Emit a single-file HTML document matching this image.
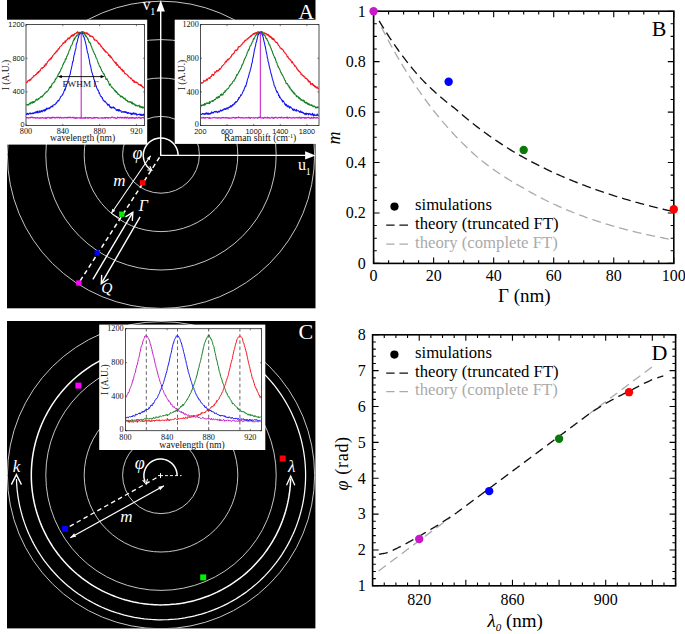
<!DOCTYPE html>
<html><head><meta charset="utf-8"><title>figure</title>
<style>
html,body{margin:0;padding:0;background:#fff;}
body{width:685px;height:634px;overflow:hidden;font-family:"Liberation Serif",serif;}
svg{display:block;}
</style></head><body>
<svg width="685" height="634" viewBox="0 0 685 634" font-family='"Liberation Serif", serif'>
<rect width="685" height="634" fill="#fff"/>
<clipPath id="ca"><rect x="7" y="0" width="308.5" height="308.3"/></clipPath>
<rect x="7" y="0" width="308.5" height="308.3" fill="#000"/>
<g clip-path="url(#ca)" fill="none" stroke="#c4c4c4" stroke-width="1">
<circle cx="161" cy="154.8" r="38.4"/>
<circle cx="161" cy="154.8" r="76.8"/>
<circle cx="161" cy="154.8" r="115.2"/>
<circle cx="161" cy="154.8" r="153.6"/>
</g>
<rect x="0" y="19.7" width="147.2" height="124.9" fill="#fff"/>
<rect x="174.7" y="19.7" width="150" height="124.2" fill="#fff"/>
<path d="M160.7 156.1 V9 M160 155.4 H307" stroke="#fff" stroke-width="1.4" fill="none"/>
<path d="M164.9 11.5 L160.7 0.3 L156.5 11.5 Z" fill="#fff"/>
<path d="M305.1 159.5 L315.6 155.4 L305.1 151.3 Z" fill="#fff"/>
<text x="142.6" y="9.9" font-size="16" fill="#fff" text-anchor="start" >v</text>
<text x="150.2" y="14.6" font-size="10" fill="#fff" text-anchor="start" >1</text>
<text x="298" y="170.2" font-size="16" fill="#fff" text-anchor="start" >u</text>
<text x="305.8" y="174.8" font-size="10" fill="#fff" text-anchor="start" >1</text>
<text x="306.3" y="18.6" font-size="22" fill="#fff" text-anchor="middle" >A</text>
<path d="M178.1 155.4 L178.06 154.21 L177.94 153.02 L177.73 151.84 L177.45 150.68 L177.08 149.54 L176.64 148.43 L176.13 147.36 L175.54 146.32 L174.88 145.32 L174.16 144.37 L173.37 143.47 L172.52 142.63 L171.62 141.85 L170.66 141.14 L169.66 140.49 L168.62 139.91 L167.54 139.4 L166.42 138.97 L165.28 138.61 L164.12 138.34 L162.94 138.14 L161.75 138.03 L160.56 138 L159.37 138.05 L158.18 138.18 L157 138.4 L155.85 138.69 L154.71 139.06 L153.6 139.51 L152.53 140.04 L151.5 140.63 L150.51 141.3 L149.56 142.03 L148.67 142.83 L147.84 143.68 L147.06 144.59 L146.35 145.55 L145.71 146.56 L145.14 147.61 L144.64 148.69 L144.22 149.81 L143.88 150.96 L143.61 152.12 L143.43 153.3 L143.32 154.49 L143.3 155.68 L143.36 156.88 L143.5 158.06 L143.73 159.24 L144.03 160.39 L144.41 161.52 L144.87 162.62 L145.4 163.69 L146.01 164.72 L146.68 165.71 L147.42 166.65 L148.23 167.53 L149.09 168.36 L150 169.12 L150.97 169.83" fill="none" stroke="#fff" stroke-width="1.5"/>
<path d="M147.71 170.05 L151.87 170.33 L150.06 166.57" fill="none" stroke="#fff" stroke-width="1.1" stroke-linecap="round" stroke-linejoin="miter"/>
<path d="M159.5 157.3 L78.8 283" stroke="#fff" stroke-width="1.5" stroke-dasharray="4.6 3.3" fill="none"/>
<path d="M150.6 155.8 L111.4 213.3" stroke="#fff" stroke-width="1.1"/>
<path d="M149.72 160.28 L150.6 155.8 L146.75 158.26 Z" fill="#fff"/>
<path d="M112.28 208.82 L111.4 213.3 L115.25 210.84 Z" fill="#fff"/>
<path d="M111.4 213.3 L120.2 218.9" stroke="#fff" stroke-width="1"/>
<path d="M132.8 212.3 L92.9 279.3 M140.1 216.9 L101.3 283.6" stroke="#fff" stroke-width="1.4" fill="none"/>
<path d="M132.34 220.4 L132.8 212.3 L125.89 216.57" fill="none" stroke="#fff" stroke-width="1.4" stroke-linecap="round" stroke-linejoin="miter"/>
<path d="M101.68 275.49 L101.3 283.6 L108.16 279.26" fill="none" stroke="#fff" stroke-width="1.4" stroke-linecap="round" stroke-linejoin="miter"/>
<rect x="139.95" y="180.15" width="5.3" height="5.3" fill="#ff0000"/>
<rect x="119.15" y="211.55" width="5.3" height="5.3" fill="#00f000"/>
<rect x="94.55" y="250.35" width="5.3" height="5.3" fill="#0000ff"/>
<rect x="76.15" y="280.35" width="5.3" height="5.3" fill="#ff00ff"/>
<text x="137.4" y="158.6" font-size="18" fill="#fff" text-anchor="middle" font-style="italic" >&#966;</text>
<text x="119.4" y="185.7" font-size="17" fill="#fff" text-anchor="middle" font-style="italic" >m</text>
<text x="143.4" y="211" font-size="16" fill="#fff" text-anchor="middle" font-style="italic" >&#915;</text>
<text x="106.8" y="293.4" font-size="15.5" fill="#fff" text-anchor="middle" font-style="italic" >Q</text>
<rect x="26" y="24.6" width="118.6" height="100.9" fill="#fff" stroke="#222" stroke-width="0.8"/>
<path d="M26 125.5 v-1.6 M26 24.6 v1.6" stroke="#222" stroke-width="0.6"/>
<text x="26" y="134.2" font-size="8.2" fill="#111" text-anchor="middle" >800</text>
<path d="M62.8 125.5 v-1.6 M62.8 24.6 v1.6" stroke="#222" stroke-width="0.6"/>
<text x="62.8" y="134.2" font-size="8.2" fill="#111" text-anchor="middle" >840</text>
<path d="M99.6 125.5 v-1.6 M99.6 24.6 v1.6" stroke="#222" stroke-width="0.6"/>
<text x="99.6" y="134.2" font-size="8.2" fill="#111" text-anchor="middle" >880</text>
<path d="M136.4 125.5 v-1.6 M136.4 24.6 v1.6" stroke="#222" stroke-width="0.6"/>
<text x="136.4" y="134.2" font-size="8.2" fill="#111" text-anchor="middle" >920</text>
<path d="M26 24.6 h1.6 M144.6 24.6 h-1.6" stroke="#222" stroke-width="0.6"/>
<text x="24.6" y="27.19" font-size="7.3" fill="#111" text-anchor="end" font-family='"Liberation Sans", sans-serif'>1200</text>
<path d="M26 58.23 h1.6 M144.6 58.23 h-1.6" stroke="#222" stroke-width="0.6"/>
<text x="24.6" y="60.82" font-size="7.3" fill="#111" text-anchor="end" font-family='"Liberation Sans", sans-serif'>800</text>
<path d="M26 91.87 h1.6 M144.6 91.87 h-1.6" stroke="#222" stroke-width="0.6"/>
<text x="24.6" y="94.45" font-size="7.3" fill="#111" text-anchor="end" font-family='"Liberation Sans", sans-serif'>400</text>
<path d="M26 125.5 h1.6 M144.6 125.5 h-1.6" stroke="#222" stroke-width="0.6"/>
<text x="24.6" y="126.89" font-size="7.3" fill="#111" text-anchor="end" font-family='"Liberation Sans", sans-serif'>0</text>
<text x="82.6" y="141.2" font-size="9.6" fill="#111" text-anchor="middle" >wavelength (nm)</text>
<text transform="translate(9.3 75.05) rotate(-90)" font-size="9.6" fill="#111" text-anchor="middle">I (A.U.)</text>
<clipPath id="cal"><rect x="26" y="24.6" width="118.6" height="100.9"/></clipPath>
<g clip-path="url(#cal)" fill="none" stroke-width="1.05" stroke-linejoin="round">
<path d="M26 82.92 L26.28 82.36 L26.55 82.42 L26.83 82.33 L27.1 82.47 L27.38 82 L27.66 81.05 L27.93 80.95 L28.21 80.46 L28.48 80.56 L28.76 80.36 L29.04 80.25 L29.31 80.99 L29.59 79.79 L29.86 79.45 L30.14 79.19 L30.42 80.04 L30.69 80.17 L30.97 79.61 L31.24 79.07 L31.52 78.36 L31.8 78.15 L32.07 77.64 L32.35 77.9 L32.62 77.33 L32.9 76.95 L33.18 77.19 L33.45 75.9 L33.73 75.92 L34 75.43 L34.28 76.02 L34.56 76.08 L34.83 75.72 L35.11 75.32 L35.38 74.65 L35.66 74.46 L35.94 74.57 L36.21 74.67 L36.49 74.3 L36.76 73.13 L37.04 73.61 L37.32 73.04 L37.59 72.59 L37.87 73.22 L38.14 72.45 L38.42 71.4 L38.7 72.55 L38.97 71.86 L39.25 71.35 L39.52 71.35 L39.8 70.5 L40.08 70.33 L40.35 70.78 L40.63 69.57 L40.9 69.08 L41.18 68.6 L41.46 68 L41.73 68.16 L42.01 68.12 L42.28 68.61 L42.56 67.6 L42.84 67.7 L43.11 67.44 L43.39 67.56 L43.66 67.23 L43.94 66.71 L44.22 65.43 L44.49 66.49 L44.77 66.31 L45.04 65.19 L45.32 64.03 L45.6 63.9 L45.87 64.89 L46.15 65.27 L46.42 63.73 L46.7 63.59 L46.98 63.52 L47.25 62.23 L47.53 61.56 L47.8 61.61 L48.08 61.35 L48.36 60.96 L48.63 60.03 L48.91 60.02 L49.18 59.84 L49.46 59.54 L49.74 60.29 L50.01 58.85 L50.29 58.36 L50.56 58.2 L50.84 59.17 L51.12 58.56 L51.39 57.41 L51.67 58.16 L51.94 57.34 L52.22 56.26 L52.5 56.87 L52.77 55.36 L53.05 55.21 L53.32 55.28 L53.6 54.83 L53.88 54.3 L54.15 54.17 L54.43 53.39 L54.7 53.82 L54.98 53.6 L55.26 52.57 L55.53 52.54 L55.81 52.75 L56.08 51.66 L56.36 50.85 L56.64 51.33 L56.91 51.71 L57.19 50.97 L57.46 50.52 L57.74 50.23 L58.02 49.06 L58.29 49.7 L58.57 48.52 L58.84 49.2 L59.12 48.94 L59.4 47.92 L59.67 47.14 L59.95 46.82 L60.22 46.75 L60.5 46.61 L60.78 46.34 L61.05 45.83 L61.33 45.83 L61.6 45.39 L61.88 44.89 L62.16 44.81 L62.43 44.19 L62.71 43.89 L62.98 42.86 L63.26 43.19 L63.54 43.45 L63.81 43.3 L64.09 42.86 L64.36 42.06 L64.64 42.25 L64.92 41.74 L65.19 40.66 L65.47 42.35 L65.74 41.94 L66.02 40.94 L66.3 40.37 L66.57 40.09 L66.85 40.16 L67.12 39.45 L67.4 39.24 L67.68 39.4 L67.95 37.8 L68.23 38.18 L68.5 38.58 L68.78 38.3 L69.06 38.12 L69.33 37.82 L69.61 38.9 L69.88 37.95 L70.16 36.76 L70.44 37.34 L70.71 36.82 L70.99 36.01 L71.26 35.67 L71.54 35.11 L71.82 36.41 L72.09 35.99 L72.37 35.73 L72.64 35.04 L72.92 34.48 L73.2 36.09 L73.47 34.57 L73.75 35.27 L74.02 34.31 L74.3 35 L74.58 34.28 L74.85 33.45 L75.13 33.79 L75.4 33.63 L75.68 33.2 L75.96 33.31 L76.23 33.39 L76.51 32.53 L76.78 32.44 L77.06 33.03 L77.34 31.62 L77.61 33.09 L77.89 32.45 L78.16 32.8 L78.44 32.66 L78.72 32.3 L78.99 32.39 L79.27 32.18 L79.54 33.18 L79.82 33.45 L80.1 32.45 L80.37 32.92 L80.65 33.09 L80.92 33.36 L81.2 32.07 L81.48 31.94 L81.75 31.55 L82.03 32.65 L82.3 32.53 L82.58 33.09 L82.86 32.32 L83.13 31.71 L83.41 32.8 L83.68 31.94 L83.96 32.01 L84.24 32.67 L84.51 33.81 L84.79 32.52 L85.06 32.94 L85.34 33.38 L85.62 33.08 L85.89 33.06 L86.17 32.58 L86.44 33.78 L86.72 33.14 L87 32.86 L87.27 32.89 L87.55 33.81 L87.82 34.46 L88.1 33.88 L88.38 34.26 L88.65 34.49 L88.93 34.01 L89.2 34.84 L89.48 36.22 L89.76 35.8 L90.03 36.54 L90.31 35.56 L90.58 35.65 L90.86 36.28 L91.14 36.3 L91.41 36.04 L91.69 36.48 L91.96 36.14 L92.24 36.89 L92.52 36.71 L92.79 36.6 L93.07 36.67 L93.34 37.99 L93.62 37.78 L93.9 39.27 L94.17 39.49 L94.45 40.17 L94.72 39.04 L95 40.03 L95.28 39.9 L95.55 40.14 L95.83 40.32 L96.1 40.84 L96.38 40.78 L96.66 40.17 L96.93 41.06 L97.21 41.29 L97.48 41.32 L97.76 42.13 L98.04 43.11 L98.31 43.25 L98.59 42.69 L98.86 44.09 L99.14 44.2 L99.42 43.64 L99.69 43.79 L99.97 44.44 L100.24 44.46 L100.52 45 L100.8 46.05 L101.07 46.78 L101.35 46.76 L101.62 46.19 L101.9 46.99 L102.18 47.62 L102.45 47.97 L102.73 48.68 L103 48.41 L103.28 49.09 L103.56 48.75 L103.83 50.24 L104.11 49.57 L104.38 50.09 L104.66 51.12 L104.94 50.33 L105.21 50.82 L105.49 52.18 L105.76 52.14 L106.04 51.78 L106.32 52.28 L106.59 52.04 L106.87 52.22 L107.14 52.54 L107.42 53.04 L107.7 52.92 L107.97 53.46 L108.25 53.95 L108.52 55.6 L108.8 54.84 L109.08 54.64 L109.35 55.61 L109.63 56.22 L109.9 55.43 L110.18 57.28 L110.46 56.95 L110.73 56.1 L111.01 57.75 L111.28 57.67 L111.56 57.28 L111.84 58.39 L112.11 58.61 L112.39 58.74 L112.66 59.91 L112.94 60.08 L113.22 60.16 L113.49 60.15 L113.77 60.8 L114.04 61.3 L114.32 62.08 L114.6 62.21 L114.87 61.85 L115.15 62.36 L115.42 63.21 L115.7 63.68 L115.98 62.28 L116.25 62.85 L116.53 63.49 L116.8 65.51 L117.08 64.73 L117.36 64.78 L117.63 64.41 L117.91 65.14 L118.18 65.82 L118.46 65.94 L118.74 67.42 L119.01 66.58 L119.29 66.89 L119.56 67.71 L119.84 67.15 L120.12 66.94 L120.39 68.69 L120.67 69.05 L120.94 68.89 L121.22 69.09 L121.5 69.65 L121.77 70.3 L122.05 69.15 L122.32 69.54 L122.6 70.97 L122.88 71.67 L123.15 70.55 L123.43 70.77 L123.7 70.61 L123.98 71.26 L124.26 72.49 L124.53 72.48 L124.81 73.88 L125.08 73.78 L125.36 73.59 L125.64 73.43 L125.91 74.19 L126.19 74.3 L126.46 74.22 L126.74 74.42 L127.02 74.53 L127.29 74.96 L127.57 75.53 L127.84 75.32 L128.12 75.8 L128.4 76.56 L128.67 76.86 L128.95 76.81 L129.22 77.02 L129.5 77.12 L129.78 77.4 L130.05 77.56 L130.33 77.93 L130.6 78.77 L130.88 78.35 L131.16 78.07 L131.43 78.46 L131.71 79.05 L131.98 79.07 L132.26 79.94 L132.54 80.83 L132.81 80.27 L133.09 80.76 L133.36 80.23 L133.64 81.13 L133.92 82.33 L134.19 82.05 L134.47 80.81 L134.74 81.56 L135.02 82.43 L135.3 82.54 L135.57 82.08 L135.85 82.1 L136.12 82.41 L136.4 81.99 L136.68 82.4 L136.95 83.03 L137.23 83.05 L137.5 82.67 L137.78 83.04 L138.06 83.26 L138.33 84.52 L138.61 84.56 L138.88 84.27 L139.16 84.84 L139.44 84.46 L139.71 84.71 L139.99 84.76 L140.26 85.47 L140.54 84.43 L140.82 84.91 L141.09 85.9 L141.37 86.18 L141.64 85.13 L141.92 86.42 L142.2 86.32 L142.47 86.36 L142.75 86.98 L143.02 87.88 L143.3 87.59 L143.58 87.54 L143.85 87.26 L144.13 87.47 L144.4 88.03 L144.68 87.9" stroke="#f5141e"/>
<path d="M26 104.87 L26.28 104.85 L26.55 104.84 L26.83 104.91 L27.1 104.38 L27.38 105.02 L27.66 104.91 L27.93 104.48 L28.21 105.01 L28.48 104.57 L28.76 105.14 L29.04 104.56 L29.31 103.67 L29.59 103.32 L29.86 103.43 L30.14 103.47 L30.42 103.98 L30.69 102.41 L30.97 102.51 L31.24 102.15 L31.52 102.94 L31.8 102.73 L32.07 103.38 L32.35 102.18 L32.62 101.64 L32.9 102.79 L33.18 102.11 L33.45 101.46 L33.73 102.35 L34 102.54 L34.28 102.11 L34.56 101.65 L34.83 101.79 L35.11 101 L35.38 100.53 L35.66 100.09 L35.94 99.8 L36.21 99.19 L36.49 99.06 L36.76 100.13 L37.04 99.93 L37.32 100.02 L37.59 99.92 L37.87 99.27 L38.14 98.89 L38.42 98.4 L38.7 99.16 L38.97 99.08 L39.25 98.3 L39.52 98.02 L39.8 97.85 L40.08 97.52 L40.35 97.63 L40.63 96.78 L40.9 96.55 L41.18 96.54 L41.46 96.68 L41.73 96.31 L42.01 97.32 L42.28 96.59 L42.56 95.69 L42.84 96.03 L43.11 95.11 L43.39 94.69 L43.66 95.15 L43.94 94.55 L44.22 94.22 L44.49 93.55 L44.77 93.09 L45.04 93.09 L45.32 93.31 L45.6 92.83 L45.87 92.45 L46.15 91.74 L46.42 91.54 L46.7 91.79 L46.98 91.98 L47.25 91.33 L47.53 91.11 L47.8 91.01 L48.08 90.27 L48.36 90.01 L48.63 89.41 L48.91 88.79 L49.18 88.84 L49.46 87.26 L49.74 87.87 L50.01 87.1 L50.29 87.11 L50.56 86.37 L50.84 87.64 L51.12 86.96 L51.39 85.99 L51.67 85.26 L51.94 83.91 L52.22 84.25 L52.5 83.59 L52.77 83.38 L53.05 82.94 L53.32 82.74 L53.6 82.73 L53.88 82.1 L54.15 82.41 L54.43 81.07 L54.7 81.46 L54.98 80.64 L55.26 79.14 L55.53 79.55 L55.81 79.23 L56.08 78.23 L56.36 78.18 L56.64 78.24 L56.91 77.39 L57.19 76.63 L57.46 75.99 L57.74 76.19 L58.02 74.63 L58.29 73.85 L58.57 74.07 L58.84 73.65 L59.12 73.5 L59.4 72.15 L59.67 72.43 L59.95 71.43 L60.22 71.32 L60.5 71.01 L60.78 69.81 L61.05 68.74 L61.33 68.68 L61.6 68.59 L61.88 67.4 L62.16 67.06 L62.43 66.36 L62.71 65.11 L62.98 64.51 L63.26 64.72 L63.54 62.95 L63.81 63.11 L64.09 62.33 L64.36 62.37 L64.64 61.63 L64.92 61.81 L65.19 59.65 L65.47 58.75 L65.74 59.32 L66.02 59.17 L66.3 58.73 L66.57 56.73 L66.85 56.49 L67.12 55.75 L67.4 55.19 L67.68 54.46 L67.95 54.26 L68.23 53.18 L68.5 53.12 L68.78 51.95 L69.06 50.95 L69.33 50.11 L69.61 49.75 L69.88 49.52 L70.16 48.46 L70.44 48.01 L70.71 46.41 L70.99 45.88 L71.26 45.72 L71.54 45.42 L71.82 45.01 L72.09 44.58 L72.37 43.74 L72.64 42.75 L72.92 41.94 L73.2 41.27 L73.47 39.92 L73.75 40.53 L74.02 39.99 L74.3 38.07 L74.58 39.47 L74.85 38.88 L75.13 38.02 L75.4 37.45 L75.68 36.84 L75.96 36.69 L76.23 36.06 L76.51 35.75 L76.78 35.05 L77.06 35.92 L77.34 35.45 L77.61 34.66 L77.89 34.73 L78.16 34.58 L78.44 33.53 L78.72 33.7 L78.99 32.97 L79.27 32.58 L79.54 32.57 L79.82 32.39 L80.1 32.57 L80.37 33.22 L80.65 32.69 L80.92 32.27 L81.2 32.64 L81.48 32.55 L81.75 32.13 L82.03 32.87 L82.3 32.4 L82.58 31.73 L82.86 32.84 L83.13 32.94 L83.41 33.25 L83.68 32.65 L83.96 33.25 L84.24 33.32 L84.51 34.33 L84.79 34.51 L85.06 34.79 L85.34 35.99 L85.62 35 L85.89 35.24 L86.17 36.92 L86.44 36.47 L86.72 37.08 L87 37.3 L87.27 37.73 L87.55 39.14 L87.82 39.27 L88.1 38.81 L88.38 40.08 L88.65 41.07 L88.93 41.92 L89.2 42.5 L89.48 42.3 L89.76 41.97 L90.03 42.93 L90.31 43.73 L90.58 43.4 L90.86 45.12 L91.14 46.15 L91.41 46.3 L91.69 46.79 L91.96 48.16 L92.24 49.11 L92.52 49.12 L92.79 49.6 L93.07 50.99 L93.34 51.31 L93.62 52.05 L93.9 52.23 L94.17 53.04 L94.45 53.73 L94.72 54.54 L95 54.54 L95.28 54.84 L95.55 56.27 L95.83 56.56 L96.1 57.9 L96.38 58.35 L96.66 58.61 L96.93 58.76 L97.21 60.2 L97.48 60.93 L97.76 61.46 L98.04 62.92 L98.31 63.04 L98.59 63.86 L98.86 64.02 L99.14 65.25 L99.42 66.47 L99.69 66.25 L99.97 66.5 L100.24 67.4 L100.52 67.36 L100.8 68.34 L101.07 69.21 L101.35 69.33 L101.62 70.79 L101.9 71.17 L102.18 71.35 L102.45 71.36 L102.73 72.24 L103 72.65 L103.28 73.63 L103.56 73.81 L103.83 73.55 L104.11 75.01 L104.38 74.27 L104.66 75.91 L104.94 76.42 L105.21 76.84 L105.49 76.87 L105.76 78.35 L106.04 79.56 L106.32 78.89 L106.59 78.92 L106.87 79.33 L107.14 78.76 L107.42 80.12 L107.7 80.8 L107.97 80.97 L108.25 81.6 L108.52 81.43 L108.8 83.13 L109.08 83.49 L109.35 85.41 L109.63 84.14 L109.9 84.62 L110.18 84.39 L110.46 83.97 L110.73 85.19 L111.01 85.94 L111.28 86.54 L111.56 87.14 L111.84 87.47 L112.11 87.17 L112.39 87.63 L112.66 87.99 L112.94 88.45 L113.22 88.28 L113.49 88.66 L113.77 89.32 L114.04 89.34 L114.32 89.97 L114.6 90.88 L114.87 90.06 L115.15 90.51 L115.42 91.57 L115.7 91.07 L115.98 91.49 L116.25 92.77 L116.53 91.76 L116.8 92.29 L117.08 92.36 L117.36 92.91 L117.63 93.44 L117.91 94.48 L118.18 93.71 L118.46 94.13 L118.74 94.58 L119.01 94.57 L119.29 94.88 L119.56 94.84 L119.84 95.51 L120.12 95.71 L120.39 96.98 L120.67 96.67 L120.94 96.18 L121.22 95.85 L121.5 96.76 L121.77 97.06 L122.05 96.44 L122.32 97.36 L122.6 97.25 L122.88 96.88 L123.15 97.73 L123.43 97.53 L123.7 98.58 L123.98 98.57 L124.26 98.84 L124.53 98.95 L124.81 98.61 L125.08 98 L125.36 99.48 L125.64 100 L125.91 99.74 L126.19 100.56 L126.46 100.15 L126.74 100.1 L127.02 100.63 L127.29 100.5 L127.57 101.61 L127.84 100.9 L128.12 101.95 L128.4 101.95 L128.67 101.99 L128.95 102.03 L129.22 101.51 L129.5 101.85 L129.78 102.29 L130.05 102.05 L130.33 101.56 L130.6 102.3 L130.88 102.44 L131.16 102.14 L131.43 102.63 L131.71 103.65 L131.98 102.15 L132.26 101.94 L132.54 104.06 L132.81 103.81 L133.09 103.6 L133.36 103.34 L133.64 103.5 L133.92 104.1 L134.19 104.76 L134.47 104.46 L134.74 103.98 L135.02 104.98 L135.3 105.33 L135.57 105.01 L135.85 105.95 L136.12 105.47 L136.4 105.49 L136.68 105.13 L136.95 105.67 L137.23 105.99 L137.5 105.92 L137.78 105.79 L138.06 106.13 L138.33 105.97 L138.61 105.62 L138.88 105.36 L139.16 105.09 L139.44 106.32 L139.71 106.57 L139.99 107.75 L140.26 105.97 L140.54 106.81 L140.82 106.78 L141.09 106.56 L141.37 107.49 L141.64 106.92 L141.92 107.05 L142.2 108.05 L142.47 107.35 L142.75 106.75 L143.02 108.16 L143.3 107.3 L143.58 107.39 L143.85 107.34 L144.13 107.4 L144.4 107.04 L144.68 107.75" stroke="#0f7f1f"/>
<path d="M26 113.78 L26.28 114.25 L26.55 113.8 L26.83 114.41 L27.1 114.22 L27.38 113.22 L27.66 113.53 L27.93 113.9 L28.21 114.48 L28.48 114.45 L28.76 113.92 L29.04 113.36 L29.31 113.42 L29.59 113.36 L29.86 113.6 L30.14 112.94 L30.42 113.59 L30.69 113.83 L30.97 113.15 L31.24 113.33 L31.52 113.52 L31.8 113.7 L32.07 113.55 L32.35 113.04 L32.62 112.98 L32.9 113.72 L33.18 113.08 L33.45 112.98 L33.73 113.5 L34 112.74 L34.28 112.99 L34.56 113.06 L34.83 112.48 L35.11 112 L35.38 112.82 L35.66 112.46 L35.94 112.97 L36.21 111.49 L36.49 112.4 L36.76 111.79 L37.04 112.48 L37.32 111.92 L37.59 111 L37.87 113.05 L38.14 112.57 L38.42 111.91 L38.7 111.96 L38.97 112.21 L39.25 110.82 L39.52 111.39 L39.8 112.37 L40.08 111.36 L40.35 112.29 L40.63 111.08 L40.9 111.52 L41.18 111.24 L41.46 110.54 L41.73 110.84 L42.01 111.62 L42.28 111.94 L42.56 110.54 L42.84 110.27 L43.11 110.91 L43.39 110.19 L43.66 110.09 L43.94 109.91 L44.22 111.24 L44.49 110.59 L44.77 109.72 L45.04 109.46 L45.32 109.23 L45.6 110.76 L45.87 109.82 L46.15 109.29 L46.42 108.02 L46.7 109.31 L46.98 109.29 L47.25 109.02 L47.53 108.42 L47.8 108.81 L48.08 108.04 L48.36 108.67 L48.63 108.24 L48.91 108.4 L49.18 108.01 L49.46 108.2 L49.74 108.61 L50.01 107.27 L50.29 107.15 L50.56 107.43 L50.84 107.02 L51.12 106.38 L51.39 107.04 L51.67 106.68 L51.94 106.12 L52.22 105.82 L52.5 106.03 L52.77 106.84 L53.05 105.26 L53.32 105.1 L53.6 105.06 L53.88 105.04 L54.15 104.6 L54.43 104.65 L54.7 104.8 L54.98 104.54 L55.26 104.21 L55.53 103.94 L55.81 103.95 L56.08 102.87 L56.36 103.32 L56.64 102.28 L56.91 102.6 L57.19 101.8 L57.46 100.84 L57.74 100.92 L58.02 101.18 L58.29 100.64 L58.57 100.19 L58.84 100.76 L59.12 100.11 L59.4 99.28 L59.67 99.08 L59.95 98.47 L60.22 97.68 L60.5 97.15 L60.78 96.62 L61.05 96.32 L61.33 96.35 L61.6 95.91 L61.88 95.58 L62.16 95.16 L62.43 94.62 L62.71 94.87 L62.98 93.88 L63.26 93.05 L63.54 92.89 L63.81 91.96 L64.09 91 L64.36 90.63 L64.64 88.96 L64.92 90.36 L65.19 89.11 L65.47 89.08 L65.74 87.17 L66.02 85.26 L66.3 86.75 L66.57 85.35 L66.85 84.19 L67.12 83.69 L67.4 82.54 L67.68 83 L67.95 80.98 L68.23 79.99 L68.5 79.22 L68.78 78.64 L69.06 77.18 L69.33 76.61 L69.61 75.37 L69.88 74.64 L70.16 74.55 L70.44 72.65 L70.71 71.18 L70.99 69.67 L71.26 69.22 L71.54 67.84 L71.82 66.26 L72.09 65.16 L72.37 63.41 L72.64 61.63 L72.92 61.65 L73.2 61.26 L73.47 58.84 L73.75 56.85 L74.02 55.63 L74.3 54.39 L74.58 53.81 L74.85 52.75 L75.13 50.7 L75.4 50.07 L75.68 49.42 L75.96 47.91 L76.23 44.84 L76.51 43.34 L76.78 43.35 L77.06 42.57 L77.34 41.07 L77.61 40.36 L77.89 38.41 L78.16 37.86 L78.44 37.57 L78.72 35.72 L78.99 35.59 L79.27 34.69 L79.54 34.14 L79.82 33.78 L80.1 33.08 L80.37 33.17 L80.65 33.63 L80.92 33.88 L81.2 33.48 L81.48 33.17 L81.75 32.84 L82.03 32.9 L82.3 32.93 L82.58 33.49 L82.86 34.51 L83.13 35.22 L83.41 36.65 L83.68 36.67 L83.96 36.96 L84.24 37.68 L84.51 38.93 L84.79 40.07 L85.06 40.63 L85.34 42.07 L85.62 42.98 L85.89 44.18 L86.17 45.61 L86.44 46.39 L86.72 48.47 L87 49.91 L87.27 51.49 L87.55 52.89 L87.82 53.06 L88.1 53.95 L88.38 56.01 L88.65 57.27 L88.93 58.27 L89.2 59.66 L89.48 60.77 L89.76 63.22 L90.03 64.52 L90.31 65.22 L90.58 65.79 L90.86 67.45 L91.14 69.24 L91.41 70.33 L91.69 71.59 L91.96 72.83 L92.24 72.77 L92.52 74.54 L92.79 75.46 L93.07 75.36 L93.34 76.5 L93.62 77.93 L93.9 79.47 L94.17 80.05 L94.45 80.23 L94.72 81.38 L95 81.99 L95.28 83.31 L95.55 84.05 L95.83 85.16 L96.1 85.7 L96.38 85.93 L96.66 87.85 L96.93 88.22 L97.21 88.65 L97.48 89.63 L97.76 90.23 L98.04 90.29 L98.31 90.11 L98.59 91.15 L98.86 92 L99.14 93.58 L99.42 92.68 L99.69 93.7 L99.97 94.4 L100.24 95.5 L100.52 95.63 L100.8 96.51 L101.07 96.5 L101.35 96.6 L101.62 97.15 L101.9 97.47 L102.18 98.42 L102.45 97.83 L102.73 98.96 L103 100.14 L103.28 99.93 L103.56 100.4 L103.83 100.9 L104.11 100.96 L104.38 100.88 L104.66 101.81 L104.94 101.78 L105.21 101.2 L105.49 101.6 L105.76 102.34 L106.04 102.61 L106.32 103.01 L106.59 103.27 L106.87 103.14 L107.14 103.69 L107.42 105.18 L107.7 104.6 L107.97 105.02 L108.25 104.54 L108.52 105.18 L108.8 105.14 L109.08 104.26 L109.35 105.76 L109.63 106.38 L109.9 106.85 L110.18 107.62 L110.46 107.72 L110.73 106.76 L111.01 107.1 L111.28 107.93 L111.56 108.11 L111.84 107.23 L112.11 107.78 L112.39 107.85 L112.66 107.63 L112.94 107.16 L113.22 106.83 L113.49 107.29 L113.77 107.97 L114.04 108.25 L114.32 107.62 L114.6 107.71 L114.87 108.7 L115.15 108.71 L115.42 108.88 L115.7 109.14 L115.98 109.57 L116.25 110.2 L116.53 110.07 L116.8 110.62 L117.08 109.48 L117.36 109.55 L117.63 110.52 L117.91 109.59 L118.18 109.63 L118.46 111.11 L118.74 109.75 L119.01 109.93 L119.29 109.42 L119.56 110.98 L119.84 110.63 L120.12 110.64 L120.39 110.82 L120.67 110.95 L120.94 110.6 L121.22 111.83 L121.5 112.13 L121.77 112.35 L122.05 112.06 L122.32 112.05 L122.6 111.61 L122.88 111.58 L123.15 111.74 L123.43 112.19 L123.7 112.26 L123.98 111.63 L124.26 111.58 L124.53 111.95 L124.81 112.32 L125.08 111.53 L125.36 112.42 L125.64 112.1 L125.91 111.8 L126.19 112.46 L126.46 112.16 L126.74 113.08 L127.02 112.33 L127.29 112.55 L127.57 113.55 L127.84 112.76 L128.12 113.34 L128.4 112.46 L128.67 113.22 L128.95 113.22 L129.22 113.04 L129.5 113.32 L129.78 113.15 L130.05 113.53 L130.33 113.07 L130.6 113.3 L130.88 113.29 L131.16 114.81 L131.43 113.33 L131.71 113.49 L131.98 114.47 L132.26 113.86 L132.54 113.52 L132.81 113.14 L133.09 114.13 L133.36 113.14 L133.64 113.73 L133.92 112.65 L134.19 113.63 L134.47 113.53 L134.74 114.06 L135.02 114.61 L135.3 113.7 L135.57 113.54 L135.85 113.21 L136.12 113.47 L136.4 114.29 L136.68 115.1 L136.95 114.86 L137.23 114.83 L137.5 114.91 L137.78 114.26 L138.06 114.21 L138.33 114.52 L138.61 114.41 L138.88 114.56 L139.16 114.44 L139.44 114.16 L139.71 113.99 L139.99 114.78 L140.26 115.45 L140.54 114.2 L140.82 114.5 L141.09 114.12 L141.37 115.39 L141.64 115.14 L141.92 114.9 L142.2 115.58 L142.47 115.34 L142.75 114.67 L143.02 114.31 L143.3 113.96 L143.58 115.1 L143.85 115.73 L144.13 114.97 L144.4 114.55 L144.68 114.81" stroke="#1414f0"/>
<path d="M26 118.15 L26.28 117.65 L26.55 117.5 L26.83 117.52 L27.1 117.83 L27.38 117.7 L27.66 117.51 L27.93 117.85 L28.21 118.33 L28.48 117.84 L28.76 117.65 L29.04 117.72 L29.31 117.49 L29.59 117.85 L29.86 117.82 L30.14 117.87 L30.42 117.63 L30.69 117.25 L30.97 117.69 L31.24 117.14 L31.52 117.13 L31.8 117.34 L32.07 117.46 L32.35 117.15 L32.62 117.63 L32.9 117.76 L33.18 118.08 L33.45 117.72 L33.73 117.35 L34 117.48 L34.28 117.56 L34.56 117.76 L34.83 117.71 L35.11 118.17 L35.38 117.58 L35.66 117.83 L35.94 118.11 L36.21 118.09 L36.49 118.1 L36.76 117.61 L37.04 117.41 L37.32 118.06 L37.59 117.58 L37.87 117.45 L38.14 117.84 L38.42 118.22 L38.7 118.12 L38.97 118.06 L39.25 117.75 L39.52 117.87 L39.8 118.39 L40.08 117.88 L40.35 118.25 L40.63 117.64 L40.9 118.08 L41.18 118.06 L41.46 118.11 L41.73 118.03 L42.01 117.46 L42.28 117.42 L42.56 117.48 L42.84 117.59 L43.11 118.17 L43.39 118.04 L43.66 118.01 L43.94 118.13 L44.22 117.72 L44.49 117.97 L44.77 118.03 L45.04 118.15 L45.32 118.49 L45.6 117.81 L45.87 117.39 L46.15 117.6 L46.42 118 L46.7 118.63 L46.98 117.97 L47.25 117.47 L47.53 117.59 L47.8 117.44 L48.08 117.23 L48.36 117.27 L48.63 117.75 L48.91 117.45 L49.18 117.44 L49.46 118.12 L49.74 117.99 L50.01 118.25 L50.29 117.94 L50.56 117.65 L50.84 118.04 L51.12 118.45 L51.39 117.59 L51.67 117.6 L51.94 117.28 L52.22 118.01 L52.5 117.53 L52.77 117.08 L53.05 116.97 L53.32 117.59 L53.6 117.63 L53.88 117.77 L54.15 117.47 L54.43 117.37 L54.7 117.62 L54.98 118.12 L55.26 117.65 L55.53 117.87 L55.81 117.61 L56.08 117.64 L56.36 117.25 L56.64 117.28 L56.91 117.75 L57.19 117.66 L57.46 117.21 L57.74 117.76 L58.02 117.63 L58.29 117.37 L58.57 117.28 L58.84 117.47 L59.12 118.06 L59.4 118.23 L59.67 117.83 L59.95 117.67 L60.22 116.99 L60.5 117.78 L60.78 117.44 L61.05 117.44 L61.33 118.16 L61.6 118.12 L61.88 117.82 L62.16 117.93 L62.43 117.86 L62.71 117.65 L62.98 117.97 L63.26 117.69 L63.54 117.93 L63.81 117.97 L64.09 117.67 L64.36 117.9 L64.64 117.72 L64.92 117.28 L65.19 117.61 L65.47 117.76 L65.74 117.55 L66.02 117.81 L66.3 117.46 L66.57 118.05 L66.85 117.67 L67.12 117.89 L67.4 118.04 L67.68 117.33 L67.95 117.88 L68.23 117.28 L68.5 117.43 L68.78 117.24 L69.06 117.89 L69.33 117.45 L69.61 117.24 L69.88 117.64 L70.16 117.77 L70.44 117.04 L70.71 117.5 L70.99 117.81 L71.26 117.96 L71.54 117.69 L71.82 117.65 L72.09 117.68 L72.37 117.23 L72.64 117.7 L72.92 117.61 L73.2 117.29 L73.47 117.92 L73.75 117.5 L74.02 117.15 L74.3 117.98 L74.58 118.15 L74.85 118.19 L75.13 118.43 L75.4 117.83 L75.68 118.33 L75.96 117.79 L76.23 117.34 L76.51 118.11 L76.78 117.96 L77.06 118.39 L77.34 117.72 L77.61 117.97 L77.89 117.9 L78.16 117.79 L78.44 117.61 L78.72 117.82 L78.99 117.78 L79.27 117.93 L79.54 117.78 L79.82 118.11 L80.1 117.85 L80.37 118.36 L80.65 118.09 L80.92 117.3 L81.2 117.6 L81.48 118.09 L81.75 117.79 L82.03 118.06 L82.3 118.34 L82.58 118.15 L82.86 117.66 L83.13 117.62 L83.41 117.75 L83.68 118.03 L83.96 118.16 L84.24 117.49 L84.51 117.61 L84.79 118 L85.06 118.46 L85.34 118.37 L85.62 117.22 L85.89 117.94 L86.17 117.84 L86.44 117.73 L86.72 117.8 L87 117.86 L87.27 118.2 L87.55 118.2 L87.82 117.4 L88.1 117.88 L88.38 117.55 L88.65 118.2 L88.93 117.98 L89.2 117.75 L89.48 117.46 L89.76 118 L90.03 117.66 L90.31 117.62 L90.58 117.94 L90.86 117.68 L91.14 118 L91.41 118.07 L91.69 117.86 L91.96 118.59 L92.24 118.04 L92.52 118.14 L92.79 118.31 L93.07 118.05 L93.34 117.63 L93.62 117.84 L93.9 117.42 L94.17 118 L94.45 118.22 L94.72 117.44 L95 117.55 L95.28 117.42 L95.55 117.91 L95.83 117.57 L96.1 117.63 L96.38 117.53 L96.66 117.69 L96.93 117.39 L97.21 117.84 L97.48 118.07 L97.76 118.29 L98.04 117.58 L98.31 117.93 L98.59 118.12 L98.86 118.15 L99.14 118.01 L99.42 118.21 L99.69 117.98 L99.97 118.01 L100.24 118 L100.52 118.12 L100.8 117.86 L101.07 117.93 L101.35 117.78 L101.62 117.7 L101.9 117.64 L102.18 118.37 L102.45 118.1 L102.73 118.1 L103 117.64 L103.28 118.19 L103.56 118.1 L103.83 117.95 L104.11 117.92 L104.38 117.52 L104.66 117.82 L104.94 117.5 L105.21 118.12 L105.49 118.4 L105.76 117.6 L106.04 117.59 L106.32 117.57 L106.59 117.67 L106.87 117.59 L107.14 118.07 L107.42 117.58 L107.7 117.86 L107.97 117.5 L108.25 117.66 L108.52 118.31 L108.8 118.31 L109.08 117.6 L109.35 117.75 L109.63 117.88 L109.9 117.73 L110.18 117.88 L110.46 117.96 L110.73 117.79 L111.01 117.73 L111.28 117.31 L111.56 117.61 L111.84 117.17 L112.11 117.05 L112.39 117.05 L112.66 117.24 L112.94 117.57 L113.22 117.66 L113.49 117.78 L113.77 117.98 L114.04 117.85 L114.32 117.98 L114.6 117.35 L114.87 117.48 L115.15 117.81 L115.42 118.34 L115.7 117.95 L115.98 117.94 L116.25 118.14 L116.53 118.21 L116.8 118.56 L117.08 117.84 L117.36 117.81 L117.63 117.02 L117.91 117.55 L118.18 117.74 L118.46 117.33 L118.74 117.6 L119.01 117.66 L119.29 117.84 L119.56 117.97 L119.84 117.38 L120.12 117.36 L120.39 117.14 L120.67 117.68 L120.94 117.73 L121.22 118.01 L121.5 117.55 L121.77 118.11 L122.05 117.7 L122.32 117.42 L122.6 117.25 L122.88 117.89 L123.15 117.48 L123.43 117.89 L123.7 118.02 L123.98 118.23 L124.26 117.56 L124.53 117.22 L124.81 117.78 L125.08 117.99 L125.36 117.93 L125.64 117.08 L125.91 117.26 L126.19 117.77 L126.46 118.3 L126.74 118.12 L127.02 117.52 L127.29 117.14 L127.57 117.66 L127.84 117.94 L128.12 117.97 L128.4 118.38 L128.67 117.68 L128.95 118.06 L129.22 117.54 L129.5 118.2 L129.78 118.27 L130.05 117.83 L130.33 118.01 L130.6 117.61 L130.88 117.71 L131.16 118.1 L131.43 117.68 L131.71 117.49 L131.98 118.25 L132.26 117.37 L132.54 117.5 L132.81 117.46 L133.09 118.22 L133.36 118.11 L133.64 117.97 L133.92 117.51 L134.19 118.12 L134.47 118.13 L134.74 118.47 L135.02 118.05 L135.3 117.75 L135.57 118.26 L135.85 118.09 L136.12 117.71 L136.4 117.28 L136.68 117.42 L136.95 117.75 L137.23 118.11 L137.5 118.14 L137.78 118.07 L138.06 117.81 L138.33 117.79 L138.61 117.28 L138.88 117.54 L139.16 118.01 L139.44 117.38 L139.71 117.37 L139.99 117.62 L140.26 117.93 L140.54 118.37 L140.82 118.25 L141.09 117.64 L141.37 117.96 L141.64 118.21 L141.92 117.84 L142.2 117.72 L142.47 117.57 L142.75 117.51 L143.02 117.27 L143.3 117.86 L143.58 117.51 L143.85 117.98 L144.13 117.62 L144.4 117.67 L144.68 117.66" stroke="#c31ec3"/>
<path d="M81.2 117.76 V32.17" stroke="#c31ec3"/>
</g>
<path d="M59.5 76.6 H103" stroke="#000" stroke-width="0.9"/>
<path d="M61.8 74.9 L57.6 76.6 L61.8 78.3 Z" fill="#000"/>
<path d="M100.6 78.3 L104.8 76.6 L100.6 74.9 Z" fill="#000"/>
<text x="80.6" y="86.6" font-size="9.2" fill="#111" text-anchor="middle" >FWHM &#915;</text>
<rect x="200.4" y="24.6" width="118.6" height="100.9" fill="#fff" stroke="#222" stroke-width="0.8"/>
<path d="M200.4 125.5 v-1.6 M200.4 24.6 v1.6" stroke="#222" stroke-width="0.6"/>
<text x="200.4" y="133.9" font-size="7.3" fill="#111" text-anchor="middle" font-family='"Liberation Sans", sans-serif'>200</text>
<path d="M227.02 125.5 v-1.6 M227.02 24.6 v1.6" stroke="#222" stroke-width="0.6"/>
<text x="227.02" y="133.9" font-size="7.3" fill="#111" text-anchor="middle" font-family='"Liberation Sans", sans-serif'>600</text>
<path d="M253.65 125.5 v-1.6 M253.65 24.6 v1.6" stroke="#222" stroke-width="0.6"/>
<text x="253.65" y="133.9" font-size="7.3" fill="#111" text-anchor="middle" font-family='"Liberation Sans", sans-serif'>1000</text>
<path d="M280.27 125.5 v-1.6 M280.27 24.6 v1.6" stroke="#222" stroke-width="0.6"/>
<text x="280.27" y="133.9" font-size="7.3" fill="#111" text-anchor="middle" font-family='"Liberation Sans", sans-serif'>1400</text>
<path d="M306.9 125.5 v-1.6 M306.9 24.6 v1.6" stroke="#222" stroke-width="0.6"/>
<text x="306.9" y="133.9" font-size="7.3" fill="#111" text-anchor="middle" font-family='"Liberation Sans", sans-serif'>1800</text>
<path d="M200.4 24.6 h1.6 M319 24.6 h-1.6" stroke="#222" stroke-width="0.6"/>
<text x="198.8" y="27.39" font-size="8.2" fill="#111" text-anchor="end" >1200</text>
<path d="M200.4 58.23 h1.6 M319 58.23 h-1.6" stroke="#222" stroke-width="0.6"/>
<text x="198.8" y="61.02" font-size="8.2" fill="#111" text-anchor="end" >800</text>
<path d="M200.4 91.87 h1.6 M319 91.87 h-1.6" stroke="#222" stroke-width="0.6"/>
<text x="198.8" y="94.65" font-size="8.2" fill="#111" text-anchor="end" >400</text>
<path d="M200.4 125.5 h1.6 M319 125.5 h-1.6" stroke="#222" stroke-width="0.6"/>
<text x="198.8" y="127.09" font-size="8.2" fill="#111" text-anchor="end" >0</text>
<text x="260.2" y="141.2" font-size="9.6" fill="#111" text-anchor="middle" >Raman shift (cm<tspan font-size="6" dy="-3.2">-1</tspan><tspan dy="3.2">)</tspan></text>
<text transform="translate(185.4 75.05) rotate(-90)" font-size="9.6" fill="#111" text-anchor="middle">I (A.U.)</text>
<clipPath id="car"><rect x="200.4" y="24.6" width="118.6" height="100.9"/></clipPath>
<g clip-path="url(#car)" fill="none" stroke-width="1.05" stroke-linejoin="round">
<path d="M200.72 83.32 L201.03 83.47 L201.35 82.8 L201.66 82.58 L201.97 82.74 L202.28 82.99 L202.6 83.02 L202.91 82.77 L203.22 82.38 L203.53 82.03 L203.84 80.27 L204.15 80.76 L204.46 80.69 L204.77 81.34 L205.08 81.3 L205.39 80.94 L205.7 80.42 L206.01 80.72 L206.32 79.33 L206.63 79.84 L206.94 79.02 L207.25 80.31 L207.55 79.38 L207.86 78.79 L208.17 78.49 L208.48 78.04 L208.79 77.89 L209.09 77.74 L209.4 78.56 L209.71 78.04 L210.01 78.53 L210.32 77.02 L210.62 76.56 L210.93 76.5 L211.24 76.62 L211.54 76.36 L211.85 74.89 L212.15 74.33 L212.45 74.87 L212.76 74.19 L213.06 75.24 L213.37 75.54 L213.67 74.73 L213.97 74.49 L214.28 74.08 L214.58 73.4 L214.88 71.58 L215.19 72.7 L215.49 72.48 L215.79 72.12 L216.09 71.97 L216.39 71.25 L216.69 70.42 L217 71.49 L217.3 70.91 L217.6 70.75 L217.9 70.19 L218.2 70.77 L218.5 70.86 L218.8 70.96 L219.1 69.37 L219.4 68.86 L219.7 68.56 L220 69.48 L220.29 68.56 L220.59 68.27 L220.89 68.3 L221.19 67.85 L221.49 66.7 L221.78 66.22 L222.08 66.15 L222.38 65.65 L222.68 65.84 L222.97 65.35 L223.27 65 L223.57 64.42 L223.86 64.34 L224.16 64.14 L224.45 63.86 L224.75 63.81 L225.04 62.13 L225.34 62.27 L225.63 62.13 L225.93 60.93 L226.22 60.8 L226.52 62.01 L226.81 61.03 L227.11 60.43 L227.4 59.51 L227.69 59.29 L227.99 59.27 L228.28 60.01 L228.57 59.85 L228.86 59 L229.16 58.4 L229.45 58.75 L229.74 58.31 L230.03 57.96 L230.32 57.39 L230.61 56.85 L230.9 56.77 L231.2 56.99 L231.49 55.58 L231.78 54.75 L232.07 55.12 L232.36 54.43 L232.65 54.28 L232.94 53.9 L233.23 53.64 L233.51 53.95 L233.8 53.14 L234.09 52.45 L234.38 52.96 L234.67 51.45 L234.96 50.7 L235.24 50.38 L235.53 49.97 L235.82 50.24 L236.11 50.63 L236.39 50.65 L236.68 50.53 L236.97 49.8 L237.25 49.42 L237.54 48.73 L237.83 49.64 L238.11 47.52 L238.4 46.67 L238.68 47.35 L238.97 46.97 L239.25 46.74 L239.54 46.54 L239.82 46.5 L240.11 46.23 L240.39 46.28 L240.68 45.57 L240.96 45.24 L241.24 44.75 L241.53 44.98 L241.81 44.39 L242.09 43.99 L242.38 43.39 L242.66 43.83 L242.94 43.01 L243.22 42.28 L243.5 42.05 L243.79 42.26 L244.07 42.18 L244.35 41.84 L244.63 41.05 L244.91 40.21 L245.19 40.62 L245.47 40.79 L245.75 40.15 L246.03 39.86 L246.31 40.14 L246.59 39.96 L246.87 39.41 L247.15 38.68 L247.43 39.22 L247.71 39.12 L247.99 38.17 L248.27 38.58 L248.55 37.87 L248.82 37.38 L249.1 37.3 L249.38 37.58 L249.66 37.03 L249.93 36.86 L250.21 36.33 L250.49 36.61 L250.76 35.6 L251.04 36.54 L251.32 35.94 L251.59 35.54 L251.87 34.82 L252.15 35.27 L252.42 34.7 L252.7 34.98 L252.97 34.3 L253.25 33.49 L253.52 34.21 L253.8 33.91 L254.07 34.4 L254.35 33.51 L254.62 33.04 L254.89 33.4 L255.17 34.01 L255.44 33.35 L255.71 32.71 L255.99 32.48 L256.26 32.48 L256.53 33.75 L256.81 33.49 L257.08 32.32 L257.35 33.24 L257.62 32.29 L257.89 31.6 L258.17 31.91 L258.44 31.8 L258.71 32.47 L258.98 33.09 L259.25 32.7 L259.52 32.62 L259.79 32.51 L260.06 32.1 L260.33 32.39 L260.6 32.32 L260.87 32.19 L261.14 32.38 L261.41 31.53 L261.68 31.99 L261.95 32.34 L262.22 32.62 L262.48 32.94 L262.75 32.09 L263.02 32.48 L263.29 33.26 L263.56 33.28 L263.83 33.13 L264.09 33.3 L264.36 32.65 L264.63 33.64 L264.89 33.19 L265.16 33.3 L265.43 34.07 L265.69 33.77 L265.96 33.84 L266.23 33.66 L266.49 34.17 L266.76 34.05 L267.02 35.1 L267.29 35.23 L267.55 34.44 L267.82 34.19 L268.08 34.76 L268.35 35.35 L268.61 34.81 L268.88 36.36 L269.14 36.31 L269.4 35.69 L269.67 35.66 L269.93 36.63 L270.19 37.49 L270.46 36.23 L270.72 36.65 L270.98 37.46 L271.24 37.38 L271.51 37.09 L271.77 38.92 L272.03 37.78 L272.29 37.79 L272.55 39.37 L272.82 38.59 L273.08 39.81 L273.34 38.9 L273.6 39.17 L273.86 38.51 L274.12 39.93 L274.38 40.24 L274.64 40 L274.9 40.96 L275.16 41.48 L275.42 41.66 L275.68 41.77 L275.94 42.5 L276.2 42.14 L276.46 42.21 L276.72 42.67 L276.97 42.2 L277.23 43.28 L277.49 43 L277.75 44.06 L278.01 43.94 L278.26 45.46 L278.52 45.07 L278.78 45.35 L279.04 45.82 L279.29 46.23 L279.55 46.45 L279.81 46.92 L280.06 48.02 L280.32 47.78 L280.58 47.91 L280.83 48.16 L281.09 48.73 L281.34 48.66 L281.6 48.41 L281.85 49.08 L282.11 49.64 L282.36 49.1 L282.62 49.37 L282.87 49.7 L283.13 49.92 L283.38 50.96 L283.64 51.4 L283.89 51.14 L284.14 52.13 L284.4 52.45 L284.65 52.52 L284.9 52.78 L285.16 53.42 L285.41 53.21 L285.66 53.96 L285.91 53.97 L286.17 54.03 L286.42 54.49 L286.67 54.82 L286.92 56.1 L287.17 56.79 L287.43 56.88 L287.68 56.59 L287.93 56.23 L288.18 57.71 L288.43 57.62 L288.68 58.4 L288.93 58.81 L289.18 58.93 L289.43 58.71 L289.68 59.11 L289.93 58.98 L290.18 60.25 L290.43 59.92 L290.68 60.02 L290.93 60.71 L291.18 60.94 L291.43 61.75 L291.68 62.48 L291.92 62.58 L292.17 62.95 L292.42 61.51 L292.67 62.99 L292.92 62.59 L293.16 63.41 L293.41 63.82 L293.66 63.94 L293.91 64.96 L294.15 64.63 L294.4 65.01 L294.65 66.29 L294.89 65.83 L295.14 65.92 L295.39 66.21 L295.63 65.94 L295.88 67.07 L296.12 67.16 L296.37 67.27 L296.61 68.33 L296.86 67.81 L297.1 69.18 L297.35 69.72 L297.59 69.17 L297.84 70.02 L298.08 69.98 L298.33 70.94 L298.57 70.56 L298.81 71.25 L299.06 70.91 L299.3 71.95 L299.55 71.46 L299.79 71.86 L300.03 72.01 L300.27 72.31 L300.52 72.49 L300.76 73.46 L301 74.56 L301.24 73.78 L301.49 74.21 L301.73 74.29 L301.97 74.05 L302.21 75.37 L302.45 75.33 L302.7 75.43 L302.94 75.86 L303.18 75.47 L303.42 75.77 L303.66 76.37 L303.9 76.81 L304.14 76.22 L304.38 76.95 L304.62 76.72 L304.86 76.88 L305.1 78.28 L305.34 78.46 L305.58 78.13 L305.82 78.03 L306.06 77.95 L306.3 78.08 L306.53 78.16 L306.77 79.05 L307.01 79.4 L307.25 79.17 L307.49 79.86 L307.73 79.49 L307.96 80.85 L308.2 80.3 L308.44 80.7 L308.68 81.87 L308.91 80.9 L309.15 81.09 L309.39 81.45 L309.62 82.25 L309.86 82.34 L310.1 81.52 L310.33 82.59 L310.57 84.38 L310.81 83.76 L311.04 83.88 L311.28 83.53 L311.51 83.7 L311.75 84.15 L311.98 84.39 L312.22 83.65 L312.45 84.82 L312.69 83.6 L312.92 84.62 L313.16 85.34 L313.39 84.75 L313.63 84.81 L313.86 85.77 L314.09 85.29 L314.33 86.57 L314.56 86.63 L314.79 85.75 L315.03 86.31 L315.26 87.12 L315.49 86.58 L315.73 86.35 L315.96 86.87 L316.19 88.04 L316.42 87.79 L316.66 87.45 L316.89 87.29 L317.12 86.82 L317.35 87.85 L317.58 88.4 L317.82 88.45 L318.05 87.97 L318.28 89.01 L318.51 88.31" stroke="#f5141e"/>
<path d="M200.72 107.04 L201.03 105.57 L201.35 105.8 L201.66 105.22 L201.97 104.86 L202.28 105.62 L202.6 105.22 L202.91 104.86 L203.22 104.5 L203.53 105.07 L203.84 105.19 L204.15 105.61 L204.46 103.43 L204.77 104.05 L205.08 104.17 L205.39 104.76 L205.7 103.64 L206.01 103.95 L206.32 102.96 L206.63 102.87 L206.94 103.17 L207.25 102.82 L207.55 103.54 L207.86 103.26 L208.17 103.21 L208.48 103.45 L208.79 102.78 L209.09 102.56 L209.4 101.6 L209.71 103.61 L210.01 102.77 L210.32 102.53 L210.62 102.13 L210.93 101.46 L211.24 101.16 L211.54 101.15 L211.85 101.28 L212.15 100.73 L212.45 100.51 L212.76 101.44 L213.06 100.81 L213.37 101.05 L213.67 100.91 L213.97 100.08 L214.28 99.75 L214.58 99.5 L214.88 99.8 L215.19 99.42 L215.49 99.53 L215.79 98.78 L216.09 98.27 L216.39 97.45 L216.69 97.31 L217 98.16 L217.3 98.11 L217.6 98.19 L217.9 97.44 L218.2 96.23 L218.5 96.36 L218.8 97.7 L219.1 97.48 L219.4 97.27 L219.7 96.15 L220 95.91 L220.29 95.52 L220.59 94.5 L220.89 95.33 L221.19 95.42 L221.49 93.87 L221.78 94.04 L222.08 94.48 L222.38 95.06 L222.68 94.8 L222.97 94.99 L223.27 93.61 L223.57 93.02 L223.86 92.17 L224.16 92.29 L224.45 92.4 L224.75 92.26 L225.04 90.69 L225.34 91.85 L225.63 91.02 L225.93 90.63 L226.22 90 L226.52 90.11 L226.81 89.47 L227.11 88.89 L227.4 88.97 L227.69 88.92 L227.99 88.54 L228.28 88.57 L228.57 87.96 L228.86 87.58 L229.16 86.96 L229.45 85.96 L229.74 85.42 L230.03 85.88 L230.32 85.23 L230.61 84.92 L230.9 84.33 L231.2 84.25 L231.49 83.82 L231.78 83.78 L232.07 83.64 L232.36 82.48 L232.65 81.63 L232.94 81.4 L233.23 81.14 L233.51 80.84 L233.8 80.8 L234.09 81.14 L234.38 79.71 L234.67 79.19 L234.96 79.08 L235.24 78.93 L235.53 77.42 L235.82 78.18 L236.11 76.28 L236.39 75.92 L236.68 74.6 L236.97 75.39 L237.25 74.92 L237.54 74.66 L237.83 73.88 L238.11 73.46 L238.4 73.22 L238.68 71.86 L238.97 71.99 L239.25 71.51 L239.54 70.44 L239.82 70.26 L240.11 69.76 L240.39 68.8 L240.68 68.47 L240.96 68.4 L241.24 67.38 L241.53 66.72 L241.81 65.13 L242.09 65.63 L242.38 64.31 L242.66 64.36 L242.94 63.72 L243.22 63.07 L243.5 62.13 L243.79 61.11 L244.07 59.91 L244.35 60.29 L244.63 58.96 L244.91 58.27 L245.19 57.7 L245.47 57.85 L245.75 56.61 L246.03 56.27 L246.31 55.48 L246.59 55.09 L246.87 54.04 L247.15 53.03 L247.43 52.25 L247.71 52.23 L247.99 51.15 L248.27 50.14 L248.55 50.57 L248.82 49.03 L249.1 49.52 L249.38 48.27 L249.66 47.42 L249.93 46.27 L250.21 46.08 L250.49 45.96 L250.76 45.65 L251.04 45.36 L251.32 43.83 L251.59 43.46 L251.87 43.17 L252.15 42.06 L252.42 41.98 L252.7 41.4 L252.97 40.85 L253.25 39.26 L253.52 38.52 L253.8 38.75 L254.07 39.18 L254.35 38.06 L254.62 37.5 L254.89 36.89 L255.17 36.3 L255.44 36.28 L255.71 35.38 L255.99 34.9 L256.26 34.83 L256.53 34.88 L256.81 34.72 L257.08 33.89 L257.35 34.35 L257.62 33.85 L257.89 33.85 L258.17 34.03 L258.44 32.96 L258.71 32.86 L258.98 32.71 L259.25 32.17 L259.52 33.14 L259.79 32.69 L260.06 32.35 L260.33 31.98 L260.6 32.84 L260.87 32.23 L261.14 32.35 L261.41 31.88 L261.68 31.94 L261.95 32.35 L262.22 31.79 L262.48 32.83 L262.75 33.51 L263.02 33.83 L263.29 34.41 L263.56 34.33 L263.83 35.44 L264.09 35.1 L264.36 34.99 L264.63 34.92 L264.89 35.84 L265.16 35.53 L265.43 36.76 L265.69 37.17 L265.96 38.49 L266.23 38.65 L266.49 39.06 L266.76 38.41 L267.02 39.04 L267.29 40.4 L267.55 40.39 L267.82 40.8 L268.08 41.67 L268.35 42.21 L268.61 42.94 L268.88 43.7 L269.14 44.95 L269.4 44.93 L269.67 44.69 L269.93 44.98 L270.19 46.35 L270.46 47.44 L270.72 47.96 L270.98 48.02 L271.24 48.77 L271.51 49.91 L271.77 50.25 L272.03 51.09 L272.29 51.46 L272.55 52.48 L272.82 53.77 L273.08 53.88 L273.34 54.03 L273.6 55.46 L273.86 55.86 L274.12 55.97 L274.38 57.07 L274.64 58 L274.9 57.43 L275.16 58.3 L275.42 58.92 L275.68 60.52 L275.94 60.2 L276.2 62.15 L276.46 62.62 L276.72 62.6 L276.97 62.74 L277.23 64.32 L277.49 65.1 L277.75 65.34 L278.01 66.87 L278.26 66.51 L278.52 66.85 L278.78 67.86 L279.04 68.09 L279.29 68.45 L279.55 69.19 L279.81 69.71 L280.06 69.78 L280.32 71.15 L280.58 71.64 L280.83 72.5 L281.09 72.38 L281.34 73.42 L281.6 73.67 L281.85 74.27 L282.11 74.85 L282.36 74.58 L282.62 75.72 L282.87 75.68 L283.13 76.3 L283.38 76.59 L283.64 77.73 L283.89 77.87 L284.14 78.32 L284.4 79.44 L284.65 79.67 L284.9 80.24 L285.16 80.68 L285.41 80.47 L285.66 81.69 L285.91 82.81 L286.17 83.47 L286.42 83.34 L286.67 83.67 L286.92 83.74 L287.17 83.77 L287.43 83.47 L287.68 84.36 L287.93 84.81 L288.18 85.79 L288.43 85.71 L288.68 85.56 L288.93 85.78 L289.18 87.69 L289.43 87.13 L289.68 86.87 L289.93 87.39 L290.18 88.91 L290.43 89.02 L290.68 88.85 L290.93 89.11 L291.18 90 L291.43 90.52 L291.68 90 L291.92 91.16 L292.17 90.39 L292.42 91.04 L292.67 91.31 L292.92 92.38 L293.16 92.54 L293.41 92.17 L293.66 93.29 L293.91 92.11 L294.15 93.61 L294.4 94.16 L294.65 93.9 L294.89 93.79 L295.14 93.81 L295.39 94.53 L295.63 94.83 L295.88 95.11 L296.12 95.52 L296.37 96.77 L296.61 95.61 L296.86 95.76 L297.1 96.01 L297.35 96.62 L297.59 96.53 L297.84 96.79 L298.08 97.04 L298.33 96.7 L298.57 98.1 L298.81 97.72 L299.06 98.38 L299.3 98.35 L299.55 97.61 L299.79 98.77 L300.03 98.77 L300.27 99.15 L300.52 98.65 L300.76 99.55 L301 100.29 L301.24 99.58 L301.49 99.91 L301.73 100.11 L301.97 99.62 L302.21 100.54 L302.45 100.69 L302.7 100.59 L302.94 100.55 L303.18 101.1 L303.42 100.63 L303.66 100.02 L303.9 101.22 L304.14 100.59 L304.38 102.42 L304.62 101.38 L304.86 102.02 L305.1 102.08 L305.34 102.43 L305.58 102.77 L305.82 103.28 L306.06 103.11 L306.3 102.34 L306.53 102.27 L306.77 103.06 L307.01 103.48 L307.25 103.78 L307.49 104.2 L307.73 102.97 L307.96 103.23 L308.2 103.66 L308.44 104.17 L308.68 104.66 L308.91 103.77 L309.15 103.84 L309.39 104.77 L309.62 104.2 L309.86 105.12 L310.1 104.63 L310.33 105.33 L310.57 105.35 L310.81 105 L311.04 105 L311.28 104.79 L311.51 105.69 L311.75 104.87 L311.98 104.81 L312.22 105.51 L312.45 105.56 L312.69 106.24 L312.92 106.22 L313.16 106.84 L313.39 106.41 L313.63 106.3 L313.86 105.78 L314.09 105.87 L314.33 106.03 L314.56 106.7 L314.79 106.9 L315.03 107.08 L315.26 106.92 L315.49 107.97 L315.73 107.04 L315.96 107.95 L316.19 107.77 L316.42 107.52 L316.66 107.75 L316.89 106.84 L317.12 107.46 L317.35 106.9 L317.58 106.98 L317.82 107.86 L318.05 107.74 L318.28 107.33 L318.51 108.04" stroke="#0f7f1f"/>
<path d="M200.72 114.34 L201.03 114.6 L201.35 114.36 L201.66 114.47 L201.97 114.26 L202.28 113.74 L202.6 113.37 L202.91 113.84 L203.22 113.92 L203.53 113.61 L203.84 114.04 L204.15 114.51 L204.46 113.58 L204.77 114.26 L205.08 113.54 L205.39 114.21 L205.7 113.04 L206.01 114.04 L206.32 113.4 L206.63 112.87 L206.94 113.86 L207.25 112.95 L207.55 113.76 L207.86 114.42 L208.17 113.39 L208.48 113.06 L208.79 113.37 L209.09 114.54 L209.4 113.67 L209.71 113.5 L210.01 113.45 L210.32 113.35 L210.62 114.01 L210.93 113.58 L211.24 112.28 L211.54 111.98 L211.85 112.76 L212.15 113.13 L212.45 112.67 L212.76 112.17 L213.06 112.14 L213.37 113 L213.67 112.57 L213.97 112.41 L214.28 111.7 L214.58 111.56 L214.88 111.79 L215.19 111.48 L215.49 112.12 L215.79 111.33 L216.09 111.99 L216.39 111.75 L216.69 111.37 L217 112.09 L217.3 112.15 L217.6 112.62 L217.9 111.79 L218.2 111.59 L218.5 111.6 L218.8 111.15 L219.1 112.22 L219.4 111.47 L219.7 111.13 L220 111.14 L220.29 110.57 L220.59 109.88 L220.89 110.66 L221.19 111.06 L221.49 110.96 L221.78 110.52 L222.08 110.08 L222.38 110.58 L222.68 109.76 L222.97 110.41 L223.27 109.64 L223.57 109.52 L223.86 109.39 L224.16 108.46 L224.45 109.26 L224.75 109.37 L225.04 109.01 L225.34 108.62 L225.63 109.48 L225.93 108.87 L226.22 109.08 L226.52 108.39 L226.81 107.73 L227.11 108.06 L227.4 108.14 L227.69 107.92 L227.99 109.25 L228.28 107.75 L228.57 107.29 L228.86 107.23 L229.16 107.37 L229.45 107.45 L229.74 107.09 L230.03 106.19 L230.32 106.42 L230.61 105.66 L230.9 107.18 L231.2 106.49 L231.49 105.79 L231.78 105.57 L232.07 106.15 L232.36 105.7 L232.65 104.49 L232.94 105.19 L233.23 105.09 L233.51 104.95 L233.8 104.47 L234.09 103.58 L234.38 103.16 L234.67 104.11 L234.96 102.53 L235.24 102.85 L235.53 102.75 L235.82 101.43 L236.11 101.67 L236.39 102.08 L236.68 101.7 L236.97 101.4 L237.25 101.22 L237.54 100.6 L237.83 99.59 L238.11 99.29 L238.4 99.77 L238.68 97.65 L238.97 98.56 L239.25 98.02 L239.54 97.62 L239.82 96.85 L240.11 96.84 L240.39 96.15 L240.68 94.83 L240.96 95.07 L241.24 95.37 L241.53 94.43 L241.81 94.34 L242.09 93.73 L242.38 92.91 L242.66 92.2 L242.94 91.88 L243.22 90.83 L243.5 90.59 L243.79 90.62 L244.07 89.13 L244.35 88.82 L244.63 87.49 L244.91 87.5 L245.19 86.41 L245.47 85.69 L245.75 86.39 L246.03 85.48 L246.31 84.46 L246.59 82.37 L246.87 82.73 L247.15 80.89 L247.43 79.62 L247.71 78.89 L247.99 77.92 L248.27 77.52 L248.55 76.47 L248.82 75.33 L249.1 74.17 L249.38 72.94 L249.66 72.25 L249.93 71.5 L250.21 70.42 L250.49 68.81 L250.76 68.5 L251.04 67.37 L251.32 65.77 L251.59 64.48 L251.87 63.08 L252.15 62.91 L252.42 60.84 L252.7 59.26 L252.97 57.37 L253.25 57.2 L253.52 55.42 L253.8 53.58 L254.07 52.08 L254.35 50.37 L254.62 49 L254.89 48.69 L255.17 46.89 L255.44 45.94 L255.71 45.01 L255.99 42.77 L256.26 42.33 L256.53 41.52 L256.81 40.32 L257.08 39.47 L257.35 37.65 L257.62 36.79 L257.89 35.47 L258.17 35.03 L258.44 34.93 L258.71 33.7 L258.98 33.81 L259.25 33.48 L259.52 33.02 L259.79 32.65 L260.06 31.9 L260.33 32.54 L260.6 32.34 L260.87 32.59 L261.14 33.46 L261.41 33.91 L261.68 33.95 L261.95 34.05 L262.22 34.58 L262.48 35.17 L262.75 36.11 L263.02 37.25 L263.29 37.83 L263.56 39.39 L263.83 40.77 L264.09 41.47 L264.36 43.02 L264.63 43.88 L264.89 45.11 L265.16 46.26 L265.43 47.26 L265.69 48.83 L265.96 50.04 L266.23 51.95 L266.49 52.56 L266.76 54.17 L267.02 54.96 L267.29 57.69 L267.55 58.45 L267.82 59.09 L268.08 61.48 L268.35 62.1 L268.61 62.94 L268.88 64.07 L269.14 66.03 L269.4 66.64 L269.67 67.69 L269.93 69.36 L270.19 69.82 L270.46 71.13 L270.72 72.25 L270.98 73.56 L271.24 74.2 L271.51 75.32 L271.77 75.85 L272.03 77.02 L272.29 78.55 L272.55 79.46 L272.82 79.81 L273.08 81.15 L273.34 81.78 L273.6 82.48 L273.86 83.6 L274.12 85.52 L274.38 85.44 L274.64 85.89 L274.9 86.57 L275.16 87.7 L275.42 87.56 L275.68 88.63 L275.94 89.64 L276.2 90.43 L276.46 90.57 L276.72 91.73 L276.97 92.43 L277.23 91.58 L277.49 92.04 L277.75 92.67 L278.01 93.07 L278.26 93.91 L278.52 95.61 L278.78 95.05 L279.04 95.19 L279.29 95.9 L279.55 97.6 L279.81 96.86 L280.06 96.87 L280.32 98.05 L280.58 98.37 L280.83 98.42 L281.09 99.11 L281.34 99 L281.6 99.7 L281.85 99.85 L282.11 100.43 L282.36 101.58 L282.62 101.91 L282.87 100.21 L283.13 101.31 L283.38 101.34 L283.64 101.63 L283.89 101.63 L284.14 102.38 L284.4 103.35 L284.65 103.52 L284.9 104.69 L285.16 104.37 L285.41 103.91 L285.66 105.42 L285.91 104.89 L286.17 104.58 L286.42 104.39 L286.67 105.58 L286.92 105.94 L287.17 106.79 L287.43 106.76 L287.68 106.13 L287.93 105.33 L288.18 106.78 L288.43 106.11 L288.68 106.5 L288.93 107.18 L289.18 106.2 L289.43 108.3 L289.68 107.86 L289.93 107.69 L290.18 106.82 L290.43 106.83 L290.68 106.7 L290.93 107.8 L291.18 107.82 L291.43 107.73 L291.68 108.21 L291.92 108.52 L292.17 108.97 L292.42 109.3 L292.67 109.89 L292.92 108.6 L293.16 109.46 L293.41 110.6 L293.66 109.88 L293.91 109.88 L294.15 109.86 L294.4 109.13 L294.65 109.92 L294.89 110.3 L295.14 110.72 L295.39 110.57 L295.63 110.79 L295.88 110.61 L296.12 109.2 L296.37 110.17 L296.61 111.13 L296.86 110.13 L297.1 110.4 L297.35 110.57 L297.59 110.73 L297.84 110.78 L298.08 110.92 L298.33 110.66 L298.57 110.83 L298.81 110.77 L299.06 111.71 L299.3 111.79 L299.55 112.23 L299.79 111.58 L300.03 111.5 L300.27 112.15 L300.52 111.89 L300.76 110.86 L301 111.27 L301.24 112.58 L301.49 112.52 L301.73 112.19 L301.97 112.46 L302.21 112.38 L302.45 112.01 L302.7 112.36 L302.94 113.19 L303.18 112.6 L303.42 112.86 L303.66 112.87 L303.9 113.24 L304.14 113.78 L304.38 113.92 L304.62 113.56 L304.86 113.83 L305.1 114.75 L305.34 113.18 L305.58 113.87 L305.82 113.89 L306.06 113.32 L306.3 114.61 L306.53 113.2 L306.77 113.84 L307.01 113.36 L307.25 113.81 L307.49 113.59 L307.73 113.65 L307.96 113.74 L308.2 114.69 L308.44 114.83 L308.68 114.2 L308.91 113.33 L309.15 114.05 L309.39 113.77 L309.62 113.89 L309.86 113.79 L310.1 113.54 L310.33 114.71 L310.57 114.21 L310.81 114.31 L311.04 114.43 L311.28 114.75 L311.51 114.84 L311.75 115.01 L311.98 115.11 L312.22 113.41 L312.45 113.31 L312.69 114.13 L312.92 114.04 L313.16 114.87 L313.39 116.02 L313.63 115.92 L313.86 114.95 L314.09 114.04 L314.33 114.51 L314.56 115.14 L314.79 114.98 L315.03 115.32 L315.26 115.63 L315.49 115.18 L315.73 115.14 L315.96 115.35 L316.19 115.46 L316.42 115.54 L316.66 115.01 L316.89 114.3 L317.12 114.89 L317.35 113.89 L317.58 115.48 L317.82 115.05 L318.05 115.64 L318.28 115.35 L318.51 115.14" stroke="#1414f0"/>
<path d="M200.72 117.6 L201.03 117.39 L201.35 117.81 L201.66 118.13 L201.97 117.93 L202.28 117.73 L202.6 117.95 L202.91 117.57 L203.22 117.22 L203.53 118.01 L203.84 117.73 L204.15 117.46 L204.46 118.23 L204.77 117.84 L205.08 117.85 L205.39 118.2 L205.7 117.52 L206.01 117.63 L206.32 117.86 L206.63 117.67 L206.94 117.55 L207.25 117.48 L207.55 117.51 L207.86 117.57 L208.17 118.04 L208.48 117.97 L208.79 117.79 L209.09 118.57 L209.4 117.39 L209.71 117.76 L210.01 118.07 L210.32 118.38 L210.62 117.88 L210.93 117.79 L211.24 117.94 L211.54 117.94 L211.85 118.07 L212.15 118.07 L212.45 117.88 L212.76 117.99 L213.06 117.64 L213.37 117.77 L213.67 117.73 L213.97 117.64 L214.28 117.36 L214.58 117.47 L214.88 117.61 L215.19 117.77 L215.49 118 L215.79 117.93 L216.09 117.62 L216.39 117.66 L216.69 117.84 L217 118.17 L217.3 118.33 L217.6 117.84 L217.9 117.49 L218.2 117.58 L218.5 118.1 L218.8 117.93 L219.1 117.75 L219.4 118.02 L219.7 117.74 L220 117.82 L220.29 118.02 L220.59 118.2 L220.89 117.66 L221.19 117.63 L221.49 117.98 L221.78 118.12 L222.08 117.62 L222.38 117.55 L222.68 117.79 L222.97 117.31 L223.27 117.71 L223.57 118.05 L223.86 117.54 L224.16 117.75 L224.45 117.66 L224.75 117.72 L225.04 118.04 L225.34 118.19 L225.63 117.95 L225.93 117.42 L226.22 117.95 L226.52 117.43 L226.81 117.6 L227.11 118.03 L227.4 117.77 L227.69 117.6 L227.99 117.97 L228.28 118.44 L228.57 117.86 L228.86 118.11 L229.16 117.74 L229.45 118.31 L229.74 117.97 L230.03 118.06 L230.32 118.28 L230.61 117.99 L230.9 117.78 L231.2 117.93 L231.49 118.15 L231.78 117.82 L232.07 118.28 L232.36 117.77 L232.65 117.62 L232.94 117.24 L233.23 117.35 L233.51 117.54 L233.8 117.62 L234.09 117.71 L234.38 118.13 L234.67 117.46 L234.96 117.52 L235.24 117.77 L235.53 118.09 L235.82 117.44 L236.11 117.51 L236.39 118.03 L236.68 117.65 L236.97 117.19 L237.25 117.6 L237.54 117.6 L237.83 117.83 L238.11 117.96 L238.4 117.52 L238.68 116.81 L238.97 117.44 L239.25 117.7 L239.54 117.52 L239.82 117.78 L240.11 117.56 L240.39 117.47 L240.68 117.97 L240.96 118.13 L241.24 117.9 L241.53 117.57 L241.81 117.63 L242.09 117.37 L242.38 118.04 L242.66 117.71 L242.94 117.92 L243.22 117.78 L243.5 117.68 L243.79 118.02 L244.07 117.91 L244.35 118.14 L244.63 117.8 L244.91 118.02 L245.19 117.98 L245.47 117.77 L245.75 117.95 L246.03 117.49 L246.31 117.86 L246.59 117.55 L246.87 117.62 L247.15 118.02 L247.43 117.9 L247.71 118.04 L247.99 117.95 L248.27 117.9 L248.55 117.29 L248.82 117.74 L249.1 117.31 L249.38 117.5 L249.66 118.06 L249.93 118.51 L250.21 117.8 L250.49 118.34 L250.76 117.73 L251.04 117.46 L251.32 117.56 L251.59 117.76 L251.87 117.84 L252.15 117.71 L252.42 117.83 L252.7 117.94 L252.97 117.92 L253.25 117.48 L253.52 117.86 L253.8 117.68 L254.07 118.07 L254.35 118.06 L254.62 118.24 L254.89 117.96 L255.17 117.63 L255.44 117.64 L255.71 117.87 L255.99 117.62 L256.26 117.82 L256.53 117.67 L256.81 117.66 L257.08 117.58 L257.35 118.41 L257.62 118.33 L257.89 117.71 L258.17 117.78 L258.44 117.13 L258.71 117.64 L258.98 117.88 L259.25 117.37 L259.52 117.49 L259.79 117.14 L260.06 117.43 L260.33 117.72 L260.6 117.55 L260.87 117.92 L261.14 117.94 L261.41 117.97 L261.68 117.89 L261.95 117.58 L262.22 117.85 L262.48 117.7 L262.75 117.89 L263.02 117.55 L263.29 118.48 L263.56 118.04 L263.83 117.8 L264.09 118.08 L264.36 117.57 L264.63 117.64 L264.89 117.36 L265.16 117.37 L265.43 117.46 L265.69 117.72 L265.96 118.06 L266.23 117.92 L266.49 117.94 L266.76 117.75 L267.02 117.89 L267.29 116.93 L267.55 117.97 L267.82 117.49 L268.08 117.82 L268.35 117.85 L268.61 117.53 L268.88 117.69 L269.14 118.09 L269.4 117.74 L269.67 117.81 L269.93 118.36 L270.19 117.89 L270.46 118.1 L270.72 118.08 L270.98 117.72 L271.24 117.67 L271.51 117.82 L271.77 117.16 L272.03 117.46 L272.29 117.85 L272.55 117.72 L272.82 117.79 L273.08 118.4 L273.34 118.4 L273.6 118.35 L273.86 117.35 L274.12 117.69 L274.38 117.82 L274.64 117.94 L274.9 117.54 L275.16 117.69 L275.42 117.26 L275.68 117.39 L275.94 117.18 L276.2 117.62 L276.46 117.62 L276.72 117.84 L276.97 117.84 L277.23 118.28 L277.49 118.08 L277.75 118.13 L278.01 118.06 L278.26 117.51 L278.52 117.61 L278.78 117.37 L279.04 117.4 L279.29 117.39 L279.55 117.37 L279.81 117.82 L280.06 117.55 L280.32 117.79 L280.58 117.92 L280.83 117.47 L281.09 117.06 L281.34 117.83 L281.6 117.29 L281.85 117.39 L282.11 117.89 L282.36 117.72 L282.62 117.65 L282.87 117.62 L283.13 117.82 L283.38 118.15 L283.64 117.87 L283.89 117.55 L284.14 117.48 L284.4 117.49 L284.65 117.37 L284.9 117.93 L285.16 117.83 L285.41 117.69 L285.66 117.46 L285.91 117.63 L286.17 117.58 L286.42 117.67 L286.67 117.14 L286.92 118.2 L287.17 117.9 L287.43 117.1 L287.68 117.5 L287.93 118.2 L288.18 117.86 L288.43 118.2 L288.68 118.09 L288.93 117.8 L289.18 117.29 L289.43 117.49 L289.68 117.49 L289.93 117.39 L290.18 117.6 L290.43 117.96 L290.68 117.85 L290.93 117.69 L291.18 117.82 L291.43 117.97 L291.68 117.93 L291.92 118.24 L292.17 118.2 L292.42 117.92 L292.67 117.91 L292.92 117.8 L293.16 117.38 L293.41 117.56 L293.66 117.71 L293.91 118.08 L294.15 118.16 L294.4 117.78 L294.65 118.02 L294.89 117.72 L295.14 118.05 L295.39 117.81 L295.63 117.8 L295.88 117.49 L296.12 117.79 L296.37 117.88 L296.61 117.73 L296.86 117.74 L297.1 117.28 L297.35 117.69 L297.59 117.89 L297.84 117.89 L298.08 117.67 L298.33 117.67 L298.57 117.54 L298.81 118.09 L299.06 117.16 L299.3 117.06 L299.55 117.56 L299.79 118.05 L300.03 117.81 L300.27 117.66 L300.52 118.36 L300.76 117.94 L301 118.24 L301.24 117.78 L301.49 117.38 L301.73 117.36 L301.97 118.07 L302.21 117.46 L302.45 117.42 L302.7 117.76 L302.94 117.62 L303.18 117.29 L303.42 117.72 L303.66 117.75 L303.9 117.92 L304.14 117.48 L304.38 118.29 L304.62 117.52 L304.86 117.97 L305.1 117.56 L305.34 118.16 L305.58 118.15 L305.82 118.05 L306.06 117.62 L306.3 118.18 L306.53 117.72 L306.77 117.93 L307.01 117.46 L307.25 117.76 L307.49 117.63 L307.73 117.77 L307.96 117.26 L308.2 117.71 L308.44 117.76 L308.68 117.2 L308.91 117.57 L309.15 117.51 L309.39 117.9 L309.62 117.75 L309.86 118.4 L310.1 117.93 L310.33 118 L310.57 118.26 L310.81 118.31 L311.04 117.61 L311.28 117.6 L311.51 118.14 L311.75 117.36 L311.98 117.84 L312.22 117.89 L312.45 117.73 L312.69 118.08 L312.92 118.32 L313.16 118.14 L313.39 117.54 L313.63 117.43 L313.86 118.11 L314.09 117.53 L314.33 117.68 L314.56 117.6 L314.79 117.7 L315.03 117.63 L315.26 118.01 L315.49 118.09 L315.73 118.06 L315.96 117.96 L316.19 117.65 L316.42 118.07 L316.66 117.41 L316.89 117.84 L317.12 117.95 L317.35 117.62 L317.58 117.6 L317.82 117.81 L318.05 118.08 L318.28 118.14 L318.51 118.33" stroke="#c31ec3"/>
<path d="M260.33 117.76 V32.17" stroke="#c31ec3"/>
</g>
<clipPath id="cc"><rect x="7" y="321" width="308.4" height="307.4"/></clipPath>
<rect x="7" y="321" width="308.4" height="307.4" fill="#000"/>
<g clip-path="url(#cc)" fill="none" stroke="#c4c4c4" stroke-width="1">
<circle cx="161" cy="475.2" r="38.4"/>
<circle cx="161" cy="475.2" r="76.8"/>
<circle cx="161" cy="475.2" r="115.2"/>
<circle cx="161" cy="475.2" r="153.6"/>
</g>
<path d="M16.45 478.99 L16.58 482.37 L16.79 485.75 L17.07 489.13 L17.44 492.5 L17.88 495.86 L18.41 499.2 L19.01 502.54 L19.69 505.86 L20.44 509.16 L21.28 512.44 L22.19 515.71 L23.18 518.95 L24.24 522.16 L25.38 525.36 L26.59 528.52 L27.88 531.65 L29.23 534.76 L30.67 537.83 L32.17 540.86 L33.74 543.86 L35.39 546.83 L37.1 549.75 L38.88 552.63 L40.73 555.47 L42.64 558.27 L44.62 561.02 L46.66 563.72 L48.77 566.38 L50.93 568.98 L53.16 571.53 L55.45 574.03 L57.79 576.48 L60.19 578.87 L62.65 581.2 L65.16 583.48 L67.72 585.69 L70.34 587.85 L73 589.94 L75.72 591.97 L78.47 593.94 L81.28 595.84 L84.13 597.67 L87.02 599.44 L89.95 601.14 L92.92 602.77 L95.93 604.33 L98.97 605.82 L102.05 607.24 L105.16 608.58 L108.3 609.85 L111.47 611.05 L114.66 612.17 L117.89 613.22 L121.13 614.19 L124.4 615.09 L127.69 615.91 L130.99 616.65 L134.31 617.32 L137.65 617.9 L141 618.41 L144.36 618.84 L147.73 619.19 L151.11 619.46 L154.49 619.65 L157.88 619.77 L161.26 619.8 L164.65 619.75 L168.04 619.63 L171.42 619.42 L174.8 619.14 L178.17 618.78 L181.52 618.34 L184.87 617.82 L188.21 617.22 L191.53 616.54 L194.83 615.79 L198.11 614.96 L201.38 614.05 L204.62 613.06 L207.84 612 L211.03 610.87 L214.2 609.66 L217.33 608.38 L220.44 607.02 L223.51 605.59 L226.55 604.09 L229.55 602.52 L232.51 600.88 L235.44 599.17 L238.32 597.39 L241.16 595.55 L243.96 593.63 L246.71 591.66 L249.42 589.62 L252.07 587.52 L254.68 585.35 L257.23 583.13 L259.74 580.84 L262.18 578.5 L264.58 576.1 L266.91 573.65 L269.19 571.14 L271.41 568.58 L273.57 565.96 L275.66 563.3 L277.69 560.59 L279.66 557.83 L281.57 555.03 L283.4 552.18 L285.17 549.3 L286.88 546.37 L288.51 543.4 L290.07 540.39 L291.56 537.35 L292.98 534.27 L294.33 531.16 L295.61 528.03 L296.81 524.86 L297.93 521.66 L298.98 518.44 L299.96 515.2 L300.86 511.93 L301.68 508.64 L302.42 505.34 L303.09 502.02 L303.68 498.68 L304.19 495.33 L304.62 491.97 L304.98 488.6 L305.25 485.22 L305.45 481.84 L305.56 478.46 L305.6 475.07 L305.56 471.68 L305.43 468.29 L305.23 464.91 L304.95 461.54 L304.59 458.17 L304.15 454.81 L303.64 451.46 L303.04 448.12 L302.37 444.8 L301.62 441.5 L300.79 438.21 L299.88 434.95 L298.9 431.71 L297.85 428.49 L296.71 425.29 L295.51 422.13 L294.23 418.99 L292.87 415.88 L291.45 412.81 L289.95 409.77 L288.38 406.77 L286.74 403.8 L285.04 400.88 L283.26 397.99 L281.42 395.15 L279.51 392.35 L277.54 389.59 L275.5 386.89 L273.4 384.23 L271.24 381.62 L269.01 379.06 L266.73 376.56 L264.39 374.11 L262 371.72 L259.54 369.38 L257.04 367.1 L254.48 364.88 L251.87 362.72 L249.21 360.62 L246.5 358.58 L243.74 356.61 L240.94 354.71 L238.1 352.87 L235.21 351.09 L232.28 349.39 L229.31 347.75 L226.31 346.19 L223.27 344.69 L220.19 343.27 L217.09 341.92 L213.95 340.64 L210.78 339.44 L207.59 338.31 L204.37 337.26 L201.12 336.28 L197.86 335.38 L194.57 334.55 L191.27 333.8 L187.95 333.13 L184.61 332.54 L181.26 332.03 L177.9 331.59 L174.53 331.23 L171.16 330.96 L167.77 330.76 L164.39 330.64 L161 330.6" fill="none" stroke="#fff" stroke-width="1.25"/>
<path d="M21.2 484.1 L16.4 474.6 L11.6 484.1" fill="none" stroke="#fff" stroke-width="1.4" stroke-linecap="round" stroke-linejoin="miter"/>
<path d="M290.66 478.6 L290.54 481.63 L290.35 484.67 L290.1 487.69 L289.77 490.71 L289.37 493.73 L288.9 496.73 L288.36 499.72 L287.75 502.7 L287.07 505.66 L286.32 508.6 L285.51 511.53 L284.62 514.44 L283.67 517.32 L282.65 520.19 L281.56 523.02 L280.41 525.84 L279.19 528.62 L277.9 531.37 L276.56 534.1 L275.14 536.79 L273.67 539.45 L272.13 542.07 L270.54 544.65 L268.88 547.2 L267.16 549.71 L265.39 552.18 L263.56 554.6 L261.67 556.98 L259.72 559.32 L257.73 561.61 L255.67 563.85 L253.57 566.04 L251.42 568.19 L249.21 570.28 L246.96 572.32 L244.66 574.31 L242.32 576.24 L239.93 578.12 L237.5 579.94 L235.02 581.7 L232.51 583.41 L229.95 585.05 L227.36 586.64 L224.73 588.16 L222.07 589.63 L219.37 591.02 L216.64 592.36 L213.88 593.63 L211.09 594.84 L208.27 595.98 L205.43 597.05 L202.56 598.06 L199.67 599 L196.76 599.87 L193.83 600.68 L190.88 601.41 L187.92 602.08 L184.94 602.67 L181.94 603.2 L178.94 603.65 L175.92 604.04 L172.9 604.35 L169.87 604.6 L166.84 604.77 L163.8 604.87 L160.76 604.9 L157.72 604.86 L154.69 604.75 L151.65 604.56 L148.63 604.31 L145.6 603.98 L142.59 603.59 L139.59 603.12 L136.6 602.58 L133.62 601.98 L130.66 601.3 L127.71 600.55 L124.78 599.74 L121.87 598.86 L118.99 597.91 L116.12 596.89 L113.29 595.8 L110.47 594.65 L107.69 593.44 L104.93 592.16 L102.21 590.81 L99.52 589.4 L96.86 587.93 L94.23 586.39 L91.65 584.8 L89.1 583.15 L86.59 581.43 L84.12 579.66 L81.69 577.83 L79.31 575.94 L76.97 574 L74.68 572.01 L72.44 569.96 L70.24 567.86 L68.1 565.7 L66 563.5 L63.96 561.25 L61.97 558.95 L60.03 556.61 L58.15 554.22 L56.33 551.79 L54.56 549.32 L52.86 546.81 L51.21 544.25 L49.62 541.66 L48.1 539.03 L46.63 536.37 L45.23 533.67 L43.89 530.95 L42.62 528.19 L41.41 525.4 L40.26 522.58 L39.19 519.74 L38.18 516.87 L37.24 513.99 L36.36 511.08 L35.55 508.15 L34.82 505.2 L34.15 502.23 L33.55 499.25 L33.02 496.26 L32.56 493.26 L32.18 490.24 L31.86 487.22 L31.61 484.19 L31.44 481.16 L31.33 478.12 L31.3 475.08 L31.34 472.04 L31.45 469.01 L31.63 465.97 L31.88 462.94 L32.2 459.92 L32.6 456.91 L33.06 453.9 L33.59 450.91 L34.2 447.94 L34.87 444.97 L35.61 442.02 L36.43 439.1 L37.31 436.19 L38.25 433.3 L39.27 430.44 L40.35 427.6 L41.5 424.78 L42.71 422 L43.99 419.24 L45.34 416.51 L46.74 413.82 L48.21 411.16 L49.74 408.54 L51.34 405.95 L52.99 403.4 L54.7 400.89 L56.47 398.42 L58.3 395.99 L60.18 393.6 L62.12 391.26 L64.12 388.97 L66.16 386.72 L68.26 384.53 L70.41 382.38 L72.61 380.28 L74.86 378.24 L77.15 376.25 L79.5 374.31 L81.88 372.43 L84.31 370.6 L86.78 368.83 L89.3 367.12 L91.85 365.47 L94.44 363.88 L97.06 362.35 L99.73 360.89 L102.42 359.48 L105.15 358.14 L107.91 356.87 L110.69 355.65 L113.51 354.51 L116.35 353.43 L119.21 352.42 L122.1 351.47 L125.01 350.59 L127.94 349.78 L130.89 349.04 L133.85 348.37 L136.83 347.77 L139.82 347.24 L142.83 346.78 L145.84 346.39 L148.86 346.07 L151.89 345.82 L154.92 345.64 L157.96 345.54 L161 345.5" fill="none" stroke="#fff" stroke-width="1.5"/>
<path d="M294.6 484.8 L290.7 476 L286.8 484.8" fill="none" stroke="#fff" stroke-width="1.3" stroke-linecap="round" stroke-linejoin="miter"/>
<path d="M158 475.6 h5 M160.5 473.1 v5" stroke="#fff" stroke-width="1"/>
<path d="M165 475.6 H181.6" stroke="#eee" stroke-width="1" stroke-dasharray="3 2"/>
<path d="M177.1 475.6 L177.07 474.62 L176.98 473.64 L176.84 472.67 L176.64 471.72 L176.38 470.77 L176.07 469.84 L175.7 468.93 L175.28 468.05 L174.81 467.19 L174.29 466.36 L173.72 465.56 L173.1 464.8 L172.44 464.07 L171.74 463.39 L171 462.75 L170.23 462.15 L169.42 461.6 L168.57 461.1 L167.7 460.64 L166.81 460.25 L165.89 459.9 L164.95 459.61 L164 459.37 L163.04 459.2 L162.07 459.07 L161.09 459.01 L160.11 459 L159.13 459.06 L158.16 459.17 L157.19 459.33 L156.24 459.56 L155.3 459.84 L154.38 460.17 L153.48 460.56 L152.6 461 L151.75 461.49 L150.94 462.03 L150.15 462.62 L149.4 463.25 L148.69 463.93 L148.03 464.65 L147.4 465.4 L146.82 466.19 L146.29 467.02 L145.81 467.87 L145.38 468.75 L145 469.66 L144.68 470.58 L144.41 471.52 L144.2 472.48 L144.04 473.45 L143.94 474.42 L143.9 475.4 L143.92 476.38 L143.99 477.36 L144.13 478.33 L144.32 479.29 L144.56 480.24 L144.86 481.17 L145.22 482.09" fill="none" stroke="#fff" stroke-width="1.5"/>
<path d="M142.9 480.49 L146.2 484.2 L147.36 479.37" fill="none" stroke="#fff" stroke-width="1.1" stroke-linecap="round" stroke-linejoin="miter"/>
<path d="M156.5 477.8 L67.1 527.8" stroke="#fff" stroke-width="1.3" stroke-dasharray="4.6 3.3" fill="none"/>
<path d="M164 485.8 L70.3 537.7" stroke="#fff" stroke-width="1.2"/>
<path d="M160.21 490.3 L164 485.8 L158.17 486.63 Z" fill="#fff"/>
<path d="M74.09 533.2 L70.3 537.7 L76.13 536.87 Z" fill="#fff"/>
<rect x="75.4" y="382.6" width="6" height="6" fill="#ff00ff"/>
<rect x="279.7" y="455.5" width="6" height="6" fill="#ff0000"/>
<rect x="62.1" y="525.9" width="6" height="6" fill="#0000ff"/>
<rect x="200.2" y="574.4" width="6" height="6" fill="#00f000"/>
<text x="139.8" y="468.8" font-size="18" fill="#fff" text-anchor="middle" font-style="italic" >&#966;</text>
<text x="126.4" y="521.8" font-size="17" fill="#fff" text-anchor="middle" font-style="italic" >m</text>
<text x="16.4" y="471.6" font-size="17" fill="#fff" text-anchor="middle" font-style="italic" >k</text>
<text x="291.6" y="471.8" font-size="17" fill="#fff" text-anchor="middle" font-style="italic" >&#955;</text>
<text x="305.9" y="339.3" font-size="22" fill="#fff" text-anchor="middle" >C</text>
<rect x="99.2" y="324.6" width="166.1" height="125.4" fill="#fff"/>
<rect x="125.5" y="328.7" width="136.1" height="102" fill="#fff" stroke="#222" stroke-width="0.8"/>
<path d="M125.5 430.7 v-1.6 M125.5 328.7 v1.6" stroke="#222" stroke-width="0.6"/>
<text x="125.5" y="440" font-size="8.2" fill="#111" text-anchor="middle" >800</text>
<path d="M167.1 430.7 v-1.6 M167.1 328.7 v1.6" stroke="#222" stroke-width="0.6"/>
<text x="167.1" y="440" font-size="8.2" fill="#111" text-anchor="middle" >840</text>
<path d="M208.7 430.7 v-1.6 M208.7 328.7 v1.6" stroke="#222" stroke-width="0.6"/>
<text x="208.7" y="440" font-size="8.2" fill="#111" text-anchor="middle" >880</text>
<path d="M250.3 430.7 v-1.6 M250.3 328.7 v1.6" stroke="#222" stroke-width="0.6"/>
<text x="250.3" y="440" font-size="8.2" fill="#111" text-anchor="middle" >920</text>
<path d="M125.5 328.7 h1.6 M261.6 328.7 h-1.6" stroke="#222" stroke-width="0.6"/>
<text x="123.6" y="331.49" font-size="8.2" fill="#111" text-anchor="end" >1200</text>
<path d="M125.5 362.7 h1.6 M261.6 362.7 h-1.6" stroke="#222" stroke-width="0.6"/>
<text x="123.6" y="365.49" font-size="8.2" fill="#111" text-anchor="end" >800</text>
<path d="M125.5 396.7 h1.6 M261.6 396.7 h-1.6" stroke="#222" stroke-width="0.6"/>
<text x="123.6" y="399.49" font-size="8.2" fill="#111" text-anchor="end" >400</text>
<path d="M125.5 430.7 h1.6 M261.6 430.7 h-1.6" stroke="#222" stroke-width="0.6"/>
<text x="123.6" y="432.29" font-size="8.2" fill="#111" text-anchor="end" >0</text>
<text x="192" y="447.6" font-size="9.6" fill="#111" text-anchor="middle" >wavelength (nm)</text>
<text transform="translate(108.4 379.7) rotate(-90)" font-size="9.6" fill="#111" text-anchor="middle">I (A.U.)</text>
<clipPath id="cci"><rect x="125.5" y="328.7" width="136.1" height="102"/></clipPath>
<g clip-path="url(#cci)" fill="none" stroke-width="1" stroke-linejoin="round">
<path d="M146.3 430.7 V328.7" stroke="#555" stroke-width="0.9" stroke-dasharray="3.6 2.6"/>
<path d="M177.5 430.7 V328.7" stroke="#555" stroke-width="0.9" stroke-dasharray="3.6 2.6"/>
<path d="M208.7 430.7 V328.7" stroke="#555" stroke-width="0.9" stroke-dasharray="3.6 2.6"/>
<path d="M239.9 430.7 V328.7" stroke="#555" stroke-width="0.9" stroke-dasharray="3.6 2.6"/>
<path d="M125.5 397.81 L125.81 397.17 L126.12 396.27 L126.44 396.15 L126.75 395.77 L127.06 395.06 L127.37 394.34 L127.68 394.16 L128 393.4 L128.31 391.98 L128.62 392.61 L128.93 392.18 L129.24 391.36 L129.56 389.89 L129.87 388.74 L130.18 388.44 L130.49 387.37 L130.8 386.75 L131.12 385.81 L131.43 385.25 L131.74 384.23 L132.05 383.26 L132.36 381.84 L132.68 380.28 L132.99 380.72 L133.3 379.19 L133.61 378.2 L133.92 376.75 L134.24 375.5 L134.55 374.44 L134.86 373.3 L135.17 372.83 L135.48 372.15 L135.8 369.73 L136.11 368.31 L136.42 367.86 L136.73 365.93 L137.04 364.69 L137.36 364.64 L137.67 362.35 L137.98 361.48 L138.29 359.42 L138.6 358.59 L138.92 357.42 L139.23 356.45 L139.54 354.68 L139.85 352.73 L140.16 351.9 L140.48 351.22 L140.79 348.52 L141.1 346.96 L141.41 346.11 L141.72 345.53 L142.04 344.85 L142.35 344.07 L142.66 342.25 L142.97 340.74 L143.28 340.62 L143.6 339.6 L143.91 338.9 L144.22 338.23 L144.53 337.34 L144.84 336.11 L145.16 336.58 L145.47 335.93 L145.78 335.52 L146.09 335.9 L146.4 335.98 L146.72 336.57 L147.03 335.93 L147.34 336.61 L147.65 337.16 L147.96 337.39 L148.28 338.25 L148.59 339.06 L148.9 339.54 L149.21 339.55 L149.52 340.88 L149.84 341.66 L150.15 343.43 L150.46 344.92 L150.77 344.65 L151.08 346.29 L151.4 348.1 L151.71 348.95 L152.02 349.81 L152.33 351.93 L152.64 353.15 L152.96 353.99 L153.27 355.66 L153.58 356.42 L153.89 357.53 L154.2 359.01 L154.52 360.75 L154.83 362.05 L155.14 363.61 L155.45 364.79 L155.76 365.87 L156.08 367.34 L156.39 368.15 L156.7 368.61 L157.01 370.86 L157.32 372.02 L157.64 372.99 L157.95 374.16 L158.26 375.65 L158.57 376.97 L158.88 377.52 L159.2 378.57 L159.51 379.65 L159.82 381.2 L160.13 381.78 L160.44 382.55 L160.76 383.82 L161.07 384.5 L161.38 384.71 L161.69 387 L162 387.27 L162.32 388.63 L162.63 389.67 L162.94 390.06 L163.25 390.39 L163.56 391.19 L163.88 392.42 L164.19 393.37 L164.5 393.77 L164.81 394.12 L165.12 395 L165.44 395.96 L165.75 395.36 L166.06 396.63 L166.37 397.12 L166.68 397.81 L167 398.41 L167.31 398.7 L167.62 399.27 L167.93 399.41 L168.24 400.52 L168.56 401.29 L168.87 400.46 L169.18 401.33 L169.49 401.54 L169.8 401.73 L170.12 402.32 L170.43 402.98 L170.74 404.09 L171.05 404.7 L171.36 404.1 L171.68 404.28 L171.99 404.62 L172.3 405.86 L172.61 406.64 L172.92 406.67 L173.24 406.94 L173.55 406.69 L173.86 407.3 L174.17 406.63 L174.48 407.52 L174.8 407.95 L175.11 407.68 L175.42 408 L175.73 408.77 L176.04 408.48 L176.36 408.11 L176.67 409.44 L176.98 409.6 L177.29 410.14 L177.6 410.8 L177.92 410.11 L178.23 410.02 L178.54 410.02 L178.85 410.38 L179.16 411.61 L179.48 411.31 L179.79 411.61 L180.1 412.03 L180.41 412.25 L180.72 411.68 L181.04 412.06 L181.35 411.37 L181.66 411.88 L181.97 413.11 L182.28 412.45 L182.6 412.21 L182.91 412.74 L183.22 413.5 L183.53 412.62 L183.84 413.7 L184.16 413.62 L184.47 414.43 L184.78 414.5 L185.09 414.79 L185.4 413.83 L185.72 413.59 L186.03 414.25 L186.34 414.91 L186.65 414.66 L186.96 414.49 L187.28 415.29 L187.59 415.45 L187.9 415.15 L188.21 414.8 L188.52 415.02 L188.84 415.01 L189.15 415.76 L189.46 416.56 L189.77 415.72 L190.08 416.04 L190.4 415.87 L190.71 415.99 L191.02 415.74 L191.33 416.23 L191.64 415.54 L191.96 415.96 L192.27 415.94 L192.58 415.95 L192.89 415.84 L193.2 416.12 L193.52 417.13 L193.83 417.03 L194.14 416.04 L194.45 416.36 L194.76 416.46 L195.08 416.58 L195.39 417.12 L195.7 417.34 L196.01 417.44 L196.32 416.78 L196.64 416.95 L196.95 416.46 L197.26 416.88 L197.57 416.48 L197.88 416.99 L198.2 417.85 L198.51 416.96 L198.82 417.3 L199.13 417.09 L199.44 417.47 L199.76 417.84 L200.07 417.78 L200.38 418.33 L200.69 418.56 L201 418.54 L201.32 418.42 L201.63 418.76 L201.94 418.38 L202.25 418.13 L202.56 417.39 L202.88 417.27 L203.19 418.04 L203.5 417.92 L203.81 418.37 L204.12 418.28 L204.44 418.46 L204.75 418.75 L205.06 418.61 L205.37 419.23 L205.68 418.66 L206 418.82 L206.31 419.22 L206.62 419.07 L206.93 418.68 L207.24 419.09 L207.56 418.76 L207.87 418.65 L208.18 418.24 L208.49 419.22 L208.8 419.14 L209.12 418.89 L209.43 418.43 L209.74 418.82 L210.05 418.76 L210.36 419.68 L210.68 419.61 L210.99 418.69 L211.3 419.24 L211.61 418.42 L211.92 419.38 L212.24 419.5 L212.55 420.1 L212.86 419.39 L213.17 419.34 L213.48 418.63 L213.8 419.2 L214.11 419.56 L214.42 420.16 L214.73 419.81 L215.04 419.3 L215.36 419.26 L215.67 419.06 L215.98 419.17 L216.29 419.59 L216.6 419.47 L216.92 419.62 L217.23 420.31 L217.54 419.28 L217.85 419.53 L218.16 420.21 L218.48 419.84 L218.79 419.79 L219.1 419.49 L219.41 419.24 L219.72 421.02 L220.04 420.09 L220.35 419.43 L220.66 420.26 L220.97 420.9 L221.28 420.23 L221.6 420.02 L221.91 419.96 L222.22 420.56 L222.53 420.49 L222.84 420.21 L223.16 419.91 L223.47 419.24 L223.78 419.83 L224.09 420.39 L224.4 421.3 L224.72 420.17 L225.03 420.34 L225.34 420.39 L225.65 420.78 L225.96 420.2 L226.28 421.08 L226.59 420.57 L226.9 420.43 L227.21 420.32 L227.52 419.88 L227.84 420.34 L228.15 420.41 L228.46 420.13 L228.77 421.05 L229.08 420.82 L229.4 420.61 L229.71 420.19 L230.02 420.8 L230.33 420.33 L230.64 420.37 L230.96 421.17 L231.27 421.42 L231.58 421.48 L231.89 420.86 L232.2 420.66 L232.52 420.39 L232.83 420.28 L233.14 420.82 L233.45 420.33 L233.76 420.29 L234.08 420.43 L234.39 420.48 L234.7 421.23 L235.01 420.79 L235.32 421.24 L235.64 421.45 L235.95 421.17 L236.26 420.89 L236.57 420.9 L236.88 421.02 L237.2 421.35 L237.51 420.96 L237.82 421.24 L238.13 421.6 L238.44 421.1 L238.76 420.39 L239.07 420.96 L239.38 421.41 L239.69 420.54 L240 420.15 L240.32 420.87 L240.63 421.06 L240.94 420.95 L241.25 419.79 L241.56 420.61 L241.88 420.51 L242.19 420.71 L242.5 421.72 L242.81 421.73 L243.12 421.8 L243.44 421.13 L243.75 421.07 L244.06 420.37 L244.37 421.01 L244.68 420.98 L245 421.07 L245.31 421.07 L245.62 420.18 L245.93 420.76 L246.24 420.45 L246.56 420.43 L246.87 421.22 L247.18 420.93 L247.49 421.29 L247.8 421.2 L248.12 421.16 L248.43 421.21 L248.74 421.44 L249.05 420.67 L249.36 421.2 L249.68 420.96 L249.99 420.49 L250.3 420.79 L250.61 420.72 L250.92 420.56 L251.24 420.64 L251.55 420.41 L251.86 421.65 L252.17 420.62 L252.48 421.12 L252.8 422.01 L253.11 421.82 L253.42 422.08 L253.73 421.6 L254.04 422.07 L254.36 422.01 L254.67 421.46 L254.98 421.36 L255.29 421.73 L255.6 421.61 L255.92 421.52 L256.23 421.43 L256.54 421.44 L256.85 421.54 L257.16 421.11 L257.48 422.02 L257.79 421.84 L258.1 421.53 L258.41 421.66 L258.72 421.77 L259.04 421.75 L259.35 421.49 L259.66 420.98 L259.97 421.43 L260.28 421.6 L260.6 421.4" stroke="#c31ec3"/>
<path d="M125.5 417.63 L125.81 418.3 L126.12 417.55 L126.44 417.55 L126.75 417.58 L127.06 417.05 L127.37 417.09 L127.68 417.31 L128 418 L128.31 417.97 L128.62 417.19 L128.93 416.97 L129.24 416.62 L129.56 416.55 L129.87 416.77 L130.18 417.11 L130.49 417.09 L130.8 416.63 L131.12 416.86 L131.43 416.08 L131.74 416.66 L132.05 416.97 L132.36 416.33 L132.68 416.74 L132.99 415.39 L133.3 416.01 L133.61 415.74 L133.92 415.67 L134.24 415.83 L134.55 416.2 L134.86 416.28 L135.17 415.1 L135.48 414.61 L135.8 413.91 L136.11 415.14 L136.42 414.59 L136.73 414.59 L137.04 414.15 L137.36 414.5 L137.67 414.01 L137.98 413.71 L138.29 413.65 L138.6 413.19 L138.92 413.64 L139.23 412.97 L139.54 413.61 L139.85 412.72 L140.16 414.19 L140.48 413.39 L140.79 413.38 L141.1 412.94 L141.41 412.27 L141.72 412.1 L142.04 412.19 L142.35 411.44 L142.66 412.42 L142.97 412.32 L143.28 411.2 L143.6 411.23 L143.91 412.11 L144.22 411.24 L144.53 411.48 L144.84 410.31 L145.16 409.95 L145.47 410.41 L145.78 409.63 L146.09 410.13 L146.4 409.4 L146.72 409.16 L147.03 409.23 L147.34 409.62 L147.65 409.09 L147.96 409.6 L148.28 408.85 L148.59 408.98 L148.9 407.55 L149.21 407.84 L149.52 408.34 L149.84 407.03 L150.15 406.52 L150.46 406.52 L150.77 405.21 L151.08 405.15 L151.4 405.2 L151.71 405.27 L152.02 406.01 L152.33 404.55 L152.64 403.66 L152.96 403.77 L153.27 403.88 L153.58 403.06 L153.89 403.21 L154.2 402.26 L154.52 401.36 L154.83 400.47 L155.14 400.4 L155.45 400.08 L155.76 399.42 L156.08 398.6 L156.39 398.71 L156.7 398.76 L157.01 398.21 L157.32 397.86 L157.64 397.2 L157.95 396.27 L158.26 395.37 L158.57 394.75 L158.88 394.15 L159.2 393.69 L159.51 392.75 L159.82 391.79 L160.13 391.05 L160.44 390.01 L160.76 389.91 L161.07 389.32 L161.38 387.78 L161.69 387.36 L162 386.55 L162.32 386.02 L162.63 384.69 L162.94 384.22 L163.25 383.67 L163.56 382.44 L163.88 381.54 L164.19 380.02 L164.5 379.35 L164.81 378.19 L165.12 377.23 L165.44 375.92 L165.75 375.14 L166.06 373.37 L166.37 373.06 L166.68 371.69 L167 370.56 L167.31 368.78 L167.62 367.61 L167.93 366.17 L168.24 365.16 L168.56 364.1 L168.87 363.02 L169.18 361.43 L169.49 360.09 L169.8 358.4 L170.12 356.92 L170.43 355.27 L170.74 354.29 L171.05 353.33 L171.36 352.25 L171.68 350.55 L171.99 349.03 L172.3 347.04 L172.61 346.33 L172.92 344.65 L173.24 343.32 L173.55 343.39 L173.86 341.76 L174.17 340.64 L174.48 339.61 L174.8 339.3 L175.11 338.3 L175.42 338.15 L175.73 337.55 L176.04 337.01 L176.36 335.85 L176.67 336.15 L176.98 335.63 L177.29 335.79 L177.6 336.18 L177.92 335.99 L178.23 335.91 L178.54 336.69 L178.85 336.65 L179.16 337.56 L179.48 338.32 L179.79 338.57 L180.1 339.37 L180.41 340.51 L180.72 341.76 L181.04 342.13 L181.35 342.88 L181.66 344.16 L181.97 345.08 L182.28 346.89 L182.6 347.5 L182.91 348.55 L183.22 349.82 L183.53 351.49 L183.84 352.63 L184.16 353.89 L184.47 354.82 L184.78 356.37 L185.09 357.79 L185.4 359.57 L185.72 360.39 L186.03 361.44 L186.34 363.37 L186.65 364.4 L186.96 365.75 L187.28 367.2 L187.59 369.03 L187.9 369.18 L188.21 371.59 L188.52 372.25 L188.84 373.55 L189.15 374.11 L189.46 375.72 L189.77 376.78 L190.08 377.61 L190.4 378.66 L190.71 380.1 L191.02 380.73 L191.33 381.72 L191.64 382.44 L191.96 383.93 L192.27 384.81 L192.58 385.84 L192.89 386.93 L193.2 387.38 L193.52 388.02 L193.83 388.35 L194.14 389.71 L194.45 390.34 L194.76 390.72 L195.08 391.86 L195.39 392.6 L195.7 393.26 L196.01 394.25 L196.32 395.12 L196.64 394.93 L196.95 395.68 L197.26 396.42 L197.57 397.51 L197.88 397.66 L198.2 397.64 L198.51 398.96 L198.82 399.6 L199.13 399.3 L199.44 399.41 L199.76 399.72 L200.07 401 L200.38 401.21 L200.69 402.13 L201 402.17 L201.32 402.83 L201.63 403.07 L201.94 402.93 L202.25 403.57 L202.56 404.25 L202.88 404.58 L203.19 404.83 L203.5 405.46 L203.81 405.58 L204.12 405.68 L204.44 405.52 L204.75 407.19 L205.06 407.53 L205.37 407.85 L205.68 407.27 L206 406.63 L206.31 407.56 L206.62 408.05 L206.93 407.95 L207.24 409.57 L207.56 409.29 L207.87 410.59 L208.18 409.78 L208.49 409.97 L208.8 410.17 L209.12 410.03 L209.43 410.52 L209.74 410.11 L210.05 410.58 L210.36 410.7 L210.68 409.98 L210.99 411.12 L211.3 411.03 L211.61 411.84 L211.92 411.35 L212.24 411.44 L212.55 411.92 L212.86 411.83 L213.17 411.65 L213.48 411.8 L213.8 412.52 L214.11 412.87 L214.42 412.59 L214.73 413.67 L215.04 413.73 L215.36 413.4 L215.67 413.35 L215.98 412.9 L216.29 412.89 L216.6 413.57 L216.92 413.81 L217.23 414.69 L217.54 414.57 L217.85 414.43 L218.16 414.67 L218.48 414.7 L218.79 414.55 L219.1 415.23 L219.41 415.35 L219.72 415.95 L220.04 415 L220.35 415.69 L220.66 416.23 L220.97 415.43 L221.28 415.67 L221.6 415.31 L221.91 415.82 L222.22 415 L222.53 415.4 L222.84 415.81 L223.16 416.01 L223.47 416.25 L223.78 415.97 L224.09 415.44 L224.4 416.34 L224.72 416.93 L225.03 416.47 L225.34 416.19 L225.65 417.21 L225.96 417.23 L226.28 417.41 L226.59 416.87 L226.9 416.78 L227.21 417.31 L227.52 417.67 L227.84 417.08 L228.15 418.08 L228.46 417.31 L228.77 417.45 L229.08 416.67 L229.4 416.87 L229.71 417.61 L230.02 417.75 L230.33 417.83 L230.64 418.07 L230.96 417.85 L231.27 417.46 L231.58 418.4 L231.89 418.19 L232.2 417.45 L232.52 417.57 L232.83 418.28 L233.14 418.53 L233.45 418.65 L233.76 419.03 L234.08 418.04 L234.39 418.22 L234.7 418.62 L235.01 419.08 L235.32 418.81 L235.64 418.81 L235.95 417.93 L236.26 418.58 L236.57 418.57 L236.88 418.21 L237.2 418.29 L237.51 418.69 L237.82 419.66 L238.13 418.5 L238.44 418.51 L238.76 418.96 L239.07 418.98 L239.38 419.37 L239.69 419.49 L240 419.79 L240.32 419.09 L240.63 418.89 L240.94 419 L241.25 418.8 L241.56 418.87 L241.88 419.08 L242.19 419.58 L242.5 419.14 L242.81 418.79 L243.12 418.93 L243.44 418.74 L243.75 419.41 L244.06 419.84 L244.37 419.08 L244.68 419.62 L245 419.46 L245.31 419.61 L245.62 419.59 L245.93 419.72 L246.24 419.89 L246.56 420.46 L246.87 419.15 L247.18 419.46 L247.49 420.45 L247.8 420.34 L248.12 420.42 L248.43 420.3 L248.74 421.02 L249.05 419.98 L249.36 419.24 L249.68 419.81 L249.99 419.59 L250.3 419.6 L250.61 420.37 L250.92 419.61 L251.24 420.59 L251.55 420.44 L251.86 420.32 L252.17 419.64 L252.48 419.92 L252.8 420.11 L253.11 420.46 L253.42 420.22 L253.73 420.18 L254.04 419.9 L254.36 419.55 L254.67 419.73 L254.98 420.09 L255.29 420.28 L255.6 419.64 L255.92 420.03 L256.23 420.25 L256.54 419.59 L256.85 419.49 L257.16 419.88 L257.48 420.29 L257.79 420.64 L258.1 420.06 L258.41 420.52 L258.72 420.09 L259.04 420.68 L259.35 420.51 L259.66 420.35 L259.97 420.42 L260.28 420.41 L260.6 420.36" stroke="#1414f0"/>
<path d="M125.5 421.02 L125.81 421.13 L126.12 420.76 L126.44 419.85 L126.75 420.35 L127.06 420.81 L127.37 420.83 L127.68 420.55 L128 419.98 L128.31 420.51 L128.62 420.2 L128.93 420.25 L129.24 420.47 L129.56 420.76 L129.87 420.52 L130.18 420.66 L130.49 420.18 L130.8 420.96 L131.12 420 L131.43 419.85 L131.74 419.87 L132.05 419.49 L132.36 419.72 L132.68 420.72 L132.99 420.29 L133.3 419.98 L133.61 420.34 L133.92 420.61 L134.24 420.04 L134.55 419.83 L134.86 420.13 L135.17 420.13 L135.48 420.22 L135.8 420.26 L136.11 420.05 L136.42 419.51 L136.73 420.42 L137.04 420.16 L137.36 419.27 L137.67 419.52 L137.98 419.64 L138.29 419.38 L138.6 420.03 L138.92 420.3 L139.23 420.54 L139.54 420.51 L139.85 419.79 L140.16 419.31 L140.48 419.67 L140.79 419.86 L141.1 419.46 L141.41 419.23 L141.72 419.29 L142.04 420.17 L142.35 419.86 L142.66 420.55 L142.97 419.61 L143.28 419.75 L143.6 419.69 L143.91 418.78 L144.22 418.55 L144.53 418.81 L144.84 418.94 L145.16 419 L145.47 419.3 L145.78 419.15 L146.09 418.29 L146.4 419.14 L146.72 419.28 L147.03 418.96 L147.34 418.55 L147.65 418.42 L147.96 419.09 L148.28 418.92 L148.59 418.9 L148.9 419.26 L149.21 418.81 L149.52 418.87 L149.84 418.29 L150.15 418.29 L150.46 418.75 L150.77 418.51 L151.08 418.58 L151.4 418.69 L151.71 418.63 L152.02 417.95 L152.33 418.31 L152.64 418.91 L152.96 418.68 L153.27 417.94 L153.58 417.13 L153.89 418.16 L154.2 418.15 L154.52 418.1 L154.83 418.48 L155.14 417.83 L155.45 417.78 L155.76 417.59 L156.08 416.7 L156.39 417.41 L156.7 417.15 L157.01 417.02 L157.32 417.53 L157.64 417.62 L157.95 416.74 L158.26 416.77 L158.57 416.97 L158.88 417.48 L159.2 416.79 L159.51 416.68 L159.82 415.92 L160.13 415.94 L160.44 416.17 L160.76 416.4 L161.07 416.5 L161.38 416.73 L161.69 416.4 L162 416.27 L162.32 416.01 L162.63 415.7 L162.94 415.86 L163.25 416.2 L163.56 415.7 L163.88 415.18 L164.19 415.93 L164.5 415.59 L164.81 415.37 L165.12 415.24 L165.44 415.15 L165.75 415.3 L166.06 415.28 L166.37 414.48 L166.68 414.15 L167 415.24 L167.31 415.96 L167.62 414.89 L167.93 414.94 L168.24 414.82 L168.56 415.13 L168.87 414.36 L169.18 414.2 L169.49 414.27 L169.8 413.62 L170.12 412.71 L170.43 412.74 L170.74 412.77 L171.05 413.33 L171.36 412.97 L171.68 413.04 L171.99 412.48 L172.3 412.43 L172.61 412.57 L172.92 412.26 L173.24 412.57 L173.55 411.94 L173.86 411.34 L174.17 411.8 L174.48 411.45 L174.8 412.11 L175.11 411.13 L175.42 410.73 L175.73 411.25 L176.04 410.15 L176.36 410.33 L176.67 410.99 L176.98 410.9 L177.29 409.81 L177.6 409.8 L177.92 409.08 L178.23 409.77 L178.54 409.23 L178.85 408.46 L179.16 408.73 L179.48 408.08 L179.79 408.12 L180.1 407.66 L180.41 407.34 L180.72 406.28 L181.04 407.16 L181.35 406.4 L181.66 405.74 L181.97 406.31 L182.28 405.77 L182.6 404.48 L182.91 404.36 L183.22 405.71 L183.53 404.76 L183.84 404.81 L184.16 403.75 L184.47 403.58 L184.78 403.18 L185.09 402.89 L185.4 402.05 L185.72 401.8 L186.03 401.6 L186.34 400.94 L186.65 400.16 L186.96 400.1 L187.28 398.94 L187.59 399.35 L187.9 398.28 L188.21 397.9 L188.52 396.6 L188.84 396.71 L189.15 396.34 L189.46 396.08 L189.77 394.22 L190.08 393.77 L190.4 393.86 L190.71 393.12 L191.02 392.66 L191.33 391.01 L191.64 390.45 L191.96 390.75 L192.27 389.38 L192.58 388.13 L192.89 387.55 L193.2 386.59 L193.52 385.93 L193.83 384.98 L194.14 384.05 L194.45 383.49 L194.76 382.22 L195.08 381.22 L195.39 380.29 L195.7 379.55 L196.01 378.71 L196.32 377.19 L196.64 375.72 L196.95 375.8 L197.26 374.24 L197.57 372.18 L197.88 370.9 L198.2 370.31 L198.51 368.42 L198.82 367.92 L199.13 366.78 L199.44 364.42 L199.76 363.76 L200.07 362.53 L200.38 361.81 L200.69 360.39 L201 359.09 L201.32 357.33 L201.63 356.54 L201.94 354.19 L202.25 353.13 L202.56 351.99 L202.88 350.76 L203.19 348.94 L203.5 347.2 L203.81 346.62 L204.12 344.82 L204.44 343.49 L204.75 342.46 L205.06 341.87 L205.37 341.75 L205.68 340.23 L206 339.65 L206.31 338.72 L206.62 338.84 L206.93 337.84 L207.24 337.01 L207.56 336.97 L207.87 336.27 L208.18 335.38 L208.49 335.65 L208.8 336.12 L209.12 335.1 L209.43 336.8 L209.74 337.03 L210.05 336.85 L210.36 337.56 L210.68 338.88 L210.99 338.72 L211.3 338.98 L211.61 340.31 L211.92 340.43 L212.24 341.54 L212.55 342.32 L212.86 344.42 L213.17 345.23 L213.48 345.66 L213.8 346.47 L214.11 347.88 L214.42 349.74 L214.73 351.13 L215.04 352.81 L215.36 353.55 L215.67 355.44 L215.98 356.62 L216.29 358.81 L216.6 360.19 L216.92 360.21 L217.23 361.85 L217.54 363.2 L217.85 365.51 L218.16 366.23 L218.48 366.48 L218.79 368.89 L219.1 370.84 L219.41 371.38 L219.72 372.52 L220.04 373.56 L220.35 375.1 L220.66 376.39 L220.97 377.5 L221.28 377.82 L221.6 378.93 L221.91 379.63 L222.22 381.31 L222.53 381.82 L222.84 383.06 L223.16 383.87 L223.47 384.39 L223.78 385.54 L224.09 386.63 L224.4 388.08 L224.72 388.38 L225.03 388.73 L225.34 389.94 L225.65 390.6 L225.96 392 L226.28 392.73 L226.59 392.73 L226.9 392.83 L227.21 393.96 L227.52 395.3 L227.84 395.6 L228.15 396.59 L228.46 396.77 L228.77 396.32 L229.08 397.23 L229.4 398.06 L229.71 398.18 L230.02 399.15 L230.33 399.49 L230.64 399.98 L230.96 400.35 L231.27 401.56 L231.58 401.34 L231.89 401.5 L232.2 403.13 L232.52 404.07 L232.83 403.89 L233.14 403.13 L233.45 403.76 L233.76 403.93 L234.08 404.28 L234.39 404.49 L234.7 405.41 L235.01 405.89 L235.32 405.86 L235.64 405.98 L235.95 406.23 L236.26 406.61 L236.57 407.26 L236.88 407 L237.2 407.37 L237.51 407.43 L237.82 409.1 L238.13 408.32 L238.44 409.67 L238.76 409.16 L239.07 409.53 L239.38 409.48 L239.69 409.86 L240 410.06 L240.32 410.06 L240.63 410.15 L240.94 410.78 L241.25 411.82 L241.56 411.55 L241.88 411.06 L242.19 411.61 L242.5 411.38 L242.81 411.76 L243.12 412.23 L243.44 411.62 L243.75 411.35 L244.06 412.11 L244.37 412.42 L244.68 412.21 L245 413.19 L245.31 413.4 L245.62 412.74 L245.93 412.74 L246.24 413.41 L246.56 413.82 L246.87 413.57 L247.18 414.31 L247.49 414.25 L247.8 414.2 L248.12 415.19 L248.43 414.32 L248.74 414.07 L249.05 413.95 L249.36 415.02 L249.68 415.36 L249.99 415.34 L250.3 415.61 L250.61 414.38 L250.92 415.33 L251.24 415.41 L251.55 415.29 L251.86 415.22 L252.17 414.85 L252.48 415.85 L252.8 415.4 L253.11 415.63 L253.42 416.31 L253.73 416.02 L254.04 416.64 L254.36 415.63 L254.67 416.36 L254.98 415.92 L255.29 415.71 L255.6 416.5 L255.92 416.9 L256.23 416.65 L256.54 417.12 L256.85 416.5 L257.16 416.66 L257.48 417.15 L257.79 417.31 L258.1 416.82 L258.41 417.62 L258.72 416.6 L259.04 417.37 L259.35 417.4 L259.66 417.75 L259.97 416.84 L260.28 416.94 L260.6 416.82" stroke="#0f7f1f"/>
<path d="M125.5 421.25 L125.81 421.4 L126.12 420.77 L126.44 421.01 L126.75 421.17 L127.06 421.15 L127.37 421.08 L127.68 421.24 L128 421.47 L128.31 422.12 L128.62 420.8 L128.93 421.79 L129.24 422.44 L129.56 422.03 L129.87 420.81 L130.18 420.73 L130.49 421.46 L130.8 421.31 L131.12 421.39 L131.43 422.22 L131.74 421.77 L132.05 421.38 L132.36 420.89 L132.68 421.72 L132.99 422.4 L133.3 422.32 L133.61 421.5 L133.92 421.35 L134.24 421.27 L134.55 421.25 L134.86 421.45 L135.17 421.92 L135.48 421.29 L135.8 421.13 L136.11 421 L136.42 420.67 L136.73 421.6 L137.04 422.33 L137.36 422.32 L137.67 420.68 L137.98 421.45 L138.29 421.13 L138.6 421.2 L138.92 420.9 L139.23 419.77 L139.54 420.98 L139.85 421.19 L140.16 421.43 L140.48 421.14 L140.79 420.93 L141.1 421.49 L141.41 420.69 L141.72 420.52 L142.04 420.75 L142.35 421.05 L142.66 421.18 L142.97 421.8 L143.28 421.02 L143.6 421.46 L143.91 421.39 L144.22 420.74 L144.53 421.33 L144.84 421.34 L145.16 420.76 L145.47 420.16 L145.78 421.03 L146.09 420.54 L146.4 421.12 L146.72 420.85 L147.03 420.72 L147.34 421.35 L147.65 420.63 L147.96 420.08 L148.28 420.64 L148.59 420.71 L148.9 421.32 L149.21 420.26 L149.52 420.66 L149.84 421.32 L150.15 420.67 L150.46 421.39 L150.77 421.27 L151.08 421.83 L151.4 420.53 L151.71 419.78 L152.02 420.73 L152.33 421.02 L152.64 421.06 L152.96 421.06 L153.27 420.58 L153.58 420.06 L153.89 420.91 L154.2 420.56 L154.52 421.38 L154.83 420.23 L155.14 420.54 L155.45 420.88 L155.76 420.05 L156.08 420.47 L156.39 419.97 L156.7 419.93 L157.01 419.66 L157.32 420.6 L157.64 420.51 L157.95 420.34 L158.26 420.52 L158.57 419.84 L158.88 420.56 L159.2 420.05 L159.51 419.73 L159.82 421.01 L160.13 420.97 L160.44 420.92 L160.76 420.74 L161.07 420.28 L161.38 420.37 L161.69 420.28 L162 420.46 L162.32 420.35 L162.63 420.06 L162.94 419.86 L163.25 420.42 L163.56 420.29 L163.88 420.51 L164.19 420.32 L164.5 420.77 L164.81 419.9 L165.12 419.74 L165.44 420.01 L165.75 420.31 L166.06 420.29 L166.37 420.36 L166.68 420.73 L167 419.5 L167.31 418.42 L167.62 419.97 L167.93 420.39 L168.24 419.77 L168.56 419.56 L168.87 420.39 L169.18 420.76 L169.49 419.83 L169.8 420.59 L170.12 419.38 L170.43 419.8 L170.74 419.66 L171.05 419.64 L171.36 419.85 L171.68 419.72 L171.99 419.72 L172.3 419.06 L172.61 419.4 L172.92 419.46 L173.24 419.66 L173.55 419.75 L173.86 419.8 L174.17 419.48 L174.48 418.6 L174.8 418.62 L175.11 418.97 L175.42 418.45 L175.73 418.55 L176.04 418.89 L176.36 419.13 L176.67 419.56 L176.98 419.11 L177.29 419.18 L177.6 419.71 L177.92 419.72 L178.23 418.35 L178.54 418.64 L178.85 418.58 L179.16 418.66 L179.48 418.93 L179.79 418.6 L180.1 418.22 L180.41 418.65 L180.72 418.41 L181.04 418.1 L181.35 418.61 L181.66 418.46 L181.97 418.76 L182.28 418.26 L182.6 418.49 L182.91 417.89 L183.22 418.48 L183.53 417.6 L183.84 418.13 L184.16 418.48 L184.47 418.58 L184.78 417.92 L185.09 418.32 L185.4 417.3 L185.72 417.17 L186.03 417.42 L186.34 418.26 L186.65 417.9 L186.96 418.04 L187.28 418.5 L187.59 417.66 L187.9 416.63 L188.21 417.42 L188.52 417.06 L188.84 416.71 L189.15 417.49 L189.46 417.43 L189.77 417.11 L190.08 416.89 L190.4 417.45 L190.71 417 L191.02 416.95 L191.33 416.45 L191.64 417.31 L191.96 417.09 L192.27 416.94 L192.58 416.77 L192.89 416.23 L193.2 416.58 L193.52 415.23 L193.83 416.2 L194.14 415.79 L194.45 415.54 L194.76 415.42 L195.08 415.81 L195.39 416.13 L195.7 415.92 L196.01 415.42 L196.32 415.42 L196.64 415.17 L196.95 415.03 L197.26 415.52 L197.57 415.62 L197.88 414.59 L198.2 415.01 L198.51 415.52 L198.82 414.16 L199.13 414.8 L199.44 414.95 L199.76 414.13 L200.07 414.67 L200.38 414.64 L200.69 413.75 L201 414.17 L201.32 412.82 L201.63 413.33 L201.94 412.31 L202.25 412.97 L202.56 413.1 L202.88 413.33 L203.19 413.12 L203.5 413.07 L203.81 412.75 L204.12 412.22 L204.44 412.8 L204.75 412.71 L205.06 413.06 L205.37 411.54 L205.68 411.62 L206 411.5 L206.31 411.35 L206.62 410.73 L206.93 410.7 L207.24 410.33 L207.56 410.51 L207.87 410.4 L208.18 410.19 L208.49 410.73 L208.8 409.51 L209.12 410.1 L209.43 409.87 L209.74 408.94 L210.05 408.75 L210.36 408.2 L210.68 407.49 L210.99 407.02 L211.3 406.9 L211.61 407.34 L211.92 406.32 L212.24 407.04 L212.55 406.71 L212.86 405.95 L213.17 406.01 L213.48 405.76 L213.8 405.55 L214.11 404.54 L214.42 405.59 L214.73 404.1 L215.04 403.48 L215.36 403.5 L215.67 402.98 L215.98 403.18 L216.29 402.09 L216.6 400.65 L216.92 401.58 L217.23 400.58 L217.54 400.57 L217.85 400.35 L218.16 400.01 L218.48 399.44 L218.79 399.35 L219.1 399.01 L219.41 397.27 L219.72 397.06 L220.04 396.36 L220.35 395.84 L220.66 395.19 L220.97 395.39 L221.28 394.77 L221.6 393.46 L221.91 392.44 L222.22 392.54 L222.53 391.84 L222.84 391.31 L223.16 389.91 L223.47 389.07 L223.78 388.39 L224.09 387.9 L224.4 386.74 L224.72 385.92 L225.03 385.37 L225.34 384.12 L225.65 383.5 L225.96 381.97 L226.28 380.95 L226.59 380.48 L226.9 379.08 L227.21 378.14 L227.52 377.41 L227.84 376.5 L228.15 375.75 L228.46 374.48 L228.77 372.66 L229.08 370.91 L229.4 370.29 L229.71 368.9 L230.02 367.52 L230.33 366.02 L230.64 364.8 L230.96 363.18 L231.27 361.95 L231.58 361.29 L231.89 359.66 L232.2 359.37 L232.52 357.43 L232.83 355.82 L233.14 354.17 L233.45 353.11 L233.76 351.39 L234.08 349.77 L234.39 349.29 L234.7 348.16 L235.01 346.64 L235.32 345.27 L235.64 344.22 L235.95 342.88 L236.26 342.61 L236.57 341.05 L236.88 339.8 L237.2 338.89 L237.51 338.4 L237.82 338.08 L238.13 337.33 L238.44 336.98 L238.76 337.25 L239.07 336.73 L239.38 336.21 L239.69 336.21 L240 336.4 L240.32 336.25 L240.63 336.42 L240.94 336.52 L241.25 336.88 L241.56 337.26 L241.88 337.45 L242.19 338.34 L242.5 339.03 L242.81 340.51 L243.12 342.31 L243.44 342.47 L243.75 342.8 L244.06 344.09 L244.37 345.39 L244.68 346.87 L245 347.28 L245.31 348.88 L245.62 349.93 L245.93 350.8 L246.24 352.23 L246.56 352.89 L246.87 355.02 L247.18 356.15 L247.49 357.54 L247.8 359.47 L248.12 360.69 L248.43 362.25 L248.74 363.84 L249.05 364.68 L249.36 366.29 L249.68 366.64 L249.99 368.64 L250.3 370.02 L250.61 371.03 L250.92 372.42 L251.24 373.42 L251.55 374.8 L251.86 376.34 L252.17 377.99 L252.48 378.76 L252.8 378.56 L253.11 379.67 L253.42 380.82 L253.73 382.11 L254.04 383.03 L254.36 383.77 L254.67 385.32 L254.98 386.16 L255.29 387.05 L255.6 387 L255.92 388.52 L256.23 388.6 L256.54 389.84 L256.85 389.41 L257.16 390.95 L257.48 391.86 L257.79 392.07 L258.1 392.79 L258.41 393.44 L258.72 394.91 L259.04 394.86 L259.35 395.03 L259.66 396.23 L259.97 397.14 L260.28 398.05 L260.6 397.82" stroke="#f5141e"/>
</g>
<g stroke="#000" stroke-width="1.1" fill="none">
<path d="M373.6 263.4 v-6 M373.6 11.2 v6 M433.64 263.4 v-6 M433.64 11.2 v6 M493.68 263.4 v-6 M493.68 11.2 v6 M553.72 263.4 v-6 M553.72 11.2 v6 M613.76 263.4 v-6 M613.76 11.2 v6 M673.8 263.4 v-6 M673.8 11.2 v6 M388.61 263.4 v-3.2 M388.61 11.2 v3.2 M403.62 263.4 v-3.2 M403.62 11.2 v3.2 M418.63 263.4 v-3.2 M418.63 11.2 v3.2 M448.65 263.4 v-3.2 M448.65 11.2 v3.2 M463.66 263.4 v-3.2 M463.66 11.2 v3.2 M478.67 263.4 v-3.2 M478.67 11.2 v3.2 M508.69 263.4 v-3.2 M508.69 11.2 v3.2 M523.7 263.4 v-3.2 M523.7 11.2 v3.2 M538.71 263.4 v-3.2 M538.71 11.2 v3.2 M568.73 263.4 v-3.2 M568.73 11.2 v3.2 M583.74 263.4 v-3.2 M583.74 11.2 v3.2 M598.75 263.4 v-3.2 M598.75 11.2 v3.2 M628.77 263.4 v-3.2 M628.77 11.2 v3.2 M643.78 263.4 v-3.2 M643.78 11.2 v3.2 M658.79 263.4 v-3.2 M658.79 11.2 v3.2 M373.6 263.4 h6 M673.8 263.4 h-6 M373.6 212.96 h6 M673.8 212.96 h-6 M373.6 162.52 h6 M673.8 162.52 h-6 M373.6 112.08 h6 M673.8 112.08 h-6 M373.6 61.64 h6 M673.8 61.64 h-6 M373.6 11.2 h6 M673.8 11.2 h-6 M373.6 250.79 h3.2 M673.8 250.79 h-3.2 M373.6 238.18 h3.2 M673.8 238.18 h-3.2 M373.6 225.57 h3.2 M673.8 225.57 h-3.2 M373.6 200.35 h3.2 M673.8 200.35 h-3.2 M373.6 187.74 h3.2 M673.8 187.74 h-3.2 M373.6 175.13 h3.2 M673.8 175.13 h-3.2 M373.6 149.91 h3.2 M673.8 149.91 h-3.2 M373.6 137.3 h3.2 M673.8 137.3 h-3.2 M373.6 124.69 h3.2 M673.8 124.69 h-3.2 M373.6 99.47 h3.2 M673.8 99.47 h-3.2 M373.6 86.86 h3.2 M673.8 86.86 h-3.2 M373.6 74.25 h3.2 M673.8 74.25 h-3.2 M373.6 49.03 h3.2 M673.8 49.03 h-3.2 M373.6 36.42 h3.2 M673.8 36.42 h-3.2 M373.6 23.81 h3.2 M673.8 23.81 h-3.2"/>
</g>
<rect x="373.6" y="11.2" width="300.2" height="252.2" fill="none" stroke="#000" stroke-width="1.6"/>
<text x="373.6" y="281.4" font-size="16" fill="#000" text-anchor="middle" >0</text>
<text x="433.64" y="281.4" font-size="16" fill="#000" text-anchor="middle" >20</text>
<text x="493.68" y="281.4" font-size="16" fill="#000" text-anchor="middle" >40</text>
<text x="553.72" y="281.4" font-size="16" fill="#000" text-anchor="middle" >60</text>
<text x="613.76" y="281.4" font-size="16" fill="#000" text-anchor="middle" >80</text>
<text x="673.8" y="281.4" font-size="16" fill="#000" text-anchor="middle" >100</text>
<text x="365.7" y="268.7" font-size="16" fill="#000" text-anchor="end" >0</text>
<text x="365.7" y="218.26" font-size="16" fill="#000" text-anchor="end" >0.2</text>
<text x="365.7" y="167.82" font-size="16" fill="#000" text-anchor="end" >0.4</text>
<text x="365.7" y="117.38" font-size="16" fill="#000" text-anchor="end" >0.6</text>
<text x="365.7" y="66.94" font-size="16" fill="#000" text-anchor="end" >0.8</text>
<text x="365.7" y="16.5" font-size="16" fill="#000" text-anchor="end" >1</text>
<text x="524.3" y="301.6" font-size="19" fill="#000" text-anchor="middle" >&#915; (nm)</text>
<text transform="translate(340.2 138) rotate(-90)" font-size="18" font-style="italic" text-anchor="middle">m</text>
<text x="659" y="36.2" font-size="22" fill="#000" text-anchor="middle" >B</text>
<path d="M379.6 23.56 L381.11 26.55 L382.61 29.5 L384.11 32.42 L385.61 35.3 L387.11 38.15 L388.61 40.95 L390.11 43.73 L391.61 46.46 L393.11 49.17 L394.61 51.84 L396.12 54.47 L397.62 57.08 L399.12 59.65 L400.62 62.18 L402.12 64.69 L403.62 67.16 L405.12 69.61 L406.62 72.02 L408.12 74.4 L409.62 76.75 L411.12 79.07 L412.63 81.37 L414.13 83.63 L415.63 85.86 L417.13 88.07 L418.63 90.25 L420.13 92.4 L421.63 94.53 L423.13 96.63 L424.63 98.7 L426.13 100.75 L427.64 102.77 L429.14 104.76 L430.64 106.73 L432.14 108.68 L433.64 110.6 L435.14 112.49 L436.64 114.37 L438.14 116.22 L439.64 118.04 L441.14 119.85 L442.65 121.63 L444.15 123.38 L445.65 125.12 L447.15 126.83 L448.65 128.53 L450.15 130.2 L451.65 131.85 L453.15 133.48 L454.65 135.09 L456.15 136.68 L457.66 138.25 L459.16 139.8 L460.66 141.33 L462.16 142.84 L463.66 144.33 L465.16 145.81 L466.66 147.26 L468.16 148.7 L469.66 150.12 L471.17 151.52 L472.67 152.9 L474.17 154.27 L475.67 155.62 L477.17 156.95 L478.67 158.27 L480.17 159.47 L481.67 160.66 L483.17 161.84 L484.67 162.99 L486.18 164.14 L487.68 165.26 L489.18 166.38 L490.68 167.47 L492.18 168.55 L493.68 169.62 L495.18 170.67 L496.68 171.71 L498.18 172.74 L499.68 173.75 L501.19 174.75 L502.69 175.73 L504.19 176.71 L505.69 177.66 L507.19 178.61 L508.69 179.55 L510.19 180.47 L511.69 181.38 L513.19 182.28 L514.69 183.16 L516.19 184.04 L517.7 184.9 L519.2 185.75 L520.7 186.59 L522.2 187.42 L523.7 188.24 L525.2 189.13 L526.7 190.01 L528.2 190.87 L529.7 191.73 L531.2 192.57 L532.71 193.41 L534.21 194.23 L535.71 195.04 L537.21 195.85 L538.71 196.64 L540.21 197.43 L541.71 198.2 L543.21 198.97 L544.71 199.72 L546.21 200.47 L547.72 201.21 L549.22 201.94 L550.72 202.66 L552.22 203.37 L553.72 204.07 L555.22 204.77 L556.72 205.46 L558.22 206.13 L559.72 206.8 L561.23 207.46 L562.73 208.12 L564.23 208.76 L565.73 209.4 L567.23 210.03 L568.73 210.66 L570.23 211.27 L571.73 211.88 L573.23 212.48 L574.73 213.07 L576.24 213.66 L577.74 214.24 L579.24 214.81 L580.74 215.37 L582.24 215.93 L583.74 216.48 L585.24 217.03 L586.74 217.57 L588.24 218.1 L589.74 218.63 L591.25 219.15 L592.75 219.66 L594.25 220.17 L595.75 220.67 L597.25 221.16 L598.75 221.65 L600.25 222.13 L601.75 222.61 L603.25 223.08 L604.75 223.55 L606.25 224.01 L607.76 224.47 L609.26 224.92 L610.76 225.36 L612.26 225.8 L613.76 226.23 L615.26 226.66 L616.76 227.08 L618.26 227.5 L619.76 227.92 L621.26 228.33 L622.77 228.73 L624.27 229.13 L625.77 229.52 L627.27 229.91 L628.77 230.3 L630.27 230.68 L631.77 231.05 L633.27 231.42 L634.77 231.79 L636.27 232.15 L637.78 232.51 L639.28 232.87 L640.78 233.22 L642.28 233.56 L643.78 233.9 L645.28 234.24 L646.78 234.57 L648.28 234.9 L649.78 235.23 L651.28 235.55 L652.79 235.87 L654.29 236.18 L655.79 236.49 L657.29 236.8 L658.79 237.1 L660.29 237.4 L661.79 237.7 L663.29 237.99 L664.79 238.28 L666.29 238.57 L667.8 238.85 L669.3 239.13 L670.8 239.41 L672.3 239.68 L673.8 239.95" fill="none" stroke="#aaa" stroke-width="1.3" stroke-dasharray="9 5" stroke-dashoffset="-4"/>
<path d="M378.1 19.06 L379.6 21.6 L381.11 24.1 L382.61 26.57 L384.11 28.99 L385.61 31.38 L387.11 33.73 L388.61 36.05 L390.11 38.33 L391.61 40.58 L393.11 42.8 L394.61 44.98 L396.12 47.13 L397.62 49.25 L399.12 51.33 L400.62 53.39 L402.12 55.42 L403.62 57.42 L405.12 59.39 L406.62 61.33 L408.12 63.24 L409.62 65.13 L411.12 66.99 L412.63 68.82 L414.13 70.63 L415.63 72.41 L417.13 74.17 L418.63 75.9 L420.13 77.51 L421.63 79.09 L423.13 80.65 L424.63 82.18 L426.13 83.69 L427.64 85.17 L429.14 86.63 L430.64 88.06 L432.14 89.48 L433.64 90.87 L435.14 92.23 L436.64 93.58 L438.14 94.9 L439.64 96.21 L441.14 97.49 L442.65 98.76 L444.15 100 L445.65 101.23 L447.15 102.44 L448.65 103.63 L450.15 104.8 L451.65 105.96 L453.15 107.09 L454.65 108.22 L456.15 109.55 L457.66 110.87 L459.16 112.17 L460.66 113.47 L462.16 114.75 L463.66 116.01 L465.16 117.27 L466.66 118.51 L468.16 119.74 L469.66 120.95 L471.17 122.16 L472.67 123.35 L474.17 124.53 L475.67 125.7 L477.17 126.86 L478.67 128.01 L480.17 129.14 L481.67 130.27 L483.17 131.38 L484.67 132.48 L486.18 133.57 L487.68 134.65 L489.18 135.72 L490.68 136.78 L492.18 137.83 L493.68 138.87 L495.18 139.9 L496.68 140.92 L498.18 141.93 L499.68 142.93 L501.19 143.92 L502.69 144.9 L504.19 145.87 L505.69 146.83 L507.19 147.78 L508.69 148.72 L510.19 149.64 L511.69 150.55 L513.19 151.46 L514.69 152.35 L516.19 153.24 L517.7 154.11 L519.2 154.98 L520.7 155.84 L522.2 156.69 L523.7 157.53 L525.2 158.36 L526.7 159.18 L528.2 159.99 L529.7 160.8 L531.2 161.59 L532.71 162.38 L534.21 163.16 L535.71 163.93 L537.21 164.7 L538.71 165.46 L540.21 166.21 L541.71 166.95 L543.21 167.69 L544.71 168.42 L546.21 169.14 L547.72 169.86 L549.22 170.57 L550.72 171.27 L552.22 171.96 L553.72 172.65 L555.22 173.34 L556.72 174.01 L558.22 174.68 L559.72 175.35 L561.23 176 L562.73 176.66 L564.23 177.3 L565.73 177.94 L567.23 178.57 L568.73 179.2 L570.23 179.82 L571.73 180.44 L573.23 181.05 L574.73 181.66 L576.24 182.25 L577.74 182.85 L579.24 183.44 L580.74 184.02 L582.24 184.6 L583.74 185.17 L585.24 185.74 L586.74 186.3 L588.24 186.86 L589.74 187.41 L591.25 187.96 L592.75 188.5 L594.25 189.03 L595.75 189.57 L597.25 190.09 L598.75 190.62 L600.25 191.14 L601.75 191.65 L603.25 192.16 L604.75 192.66 L606.25 193.16 L607.76 193.66 L609.26 194.15 L610.76 194.64 L612.26 195.12 L613.76 195.6 L615.26 196.07 L616.76 196.54 L618.26 197.01 L619.76 197.47 L621.26 197.93 L622.77 198.38 L624.27 198.83 L625.77 199.28 L627.27 199.72 L628.77 200.16 L630.27 200.59 L631.77 201.02 L633.27 201.45 L634.77 201.87 L636.27 202.29 L637.78 202.71 L639.28 203.12 L640.78 203.53 L642.28 203.93 L643.78 204.34 L645.28 204.74 L646.78 205.13 L648.28 205.52 L649.78 205.91 L651.28 206.3 L652.79 206.68 L654.29 207.06 L655.79 207.43 L657.29 207.8 L658.79 208.17 L660.29 208.54 L661.79 208.9 L663.29 209.26 L664.79 209.62 L666.29 209.97 L667.8 210.33 L669.3 210.67 L670.8 211.02 L672.3 211.36 L673.8 211.7" fill="none" stroke="#111" stroke-width="1.35" stroke-dasharray="9 5" stroke-dashoffset="-2"/>
<circle cx="373.6" cy="11.2" r="4.2" fill="#c818c8"/>
<circle cx="448.65" cy="81.82" r="4.2" fill="#0000ff"/>
<circle cx="523.7" cy="149.91" r="4.2" fill="#0a7a0a"/>
<circle cx="673.8" cy="209.18" r="4.2" fill="#ff0000"/>
<circle cx="394.5" cy="206.6" r="4.1" fill="#000"/>
<path d="M386.2 225.1 h8.4 M399.4 225.1 h8.6" stroke="#111" stroke-width="1.25"/>
<path d="M386.2 244 h8.4 M399.4 244 h8.6" stroke="#aaa" stroke-width="1.25"/>
<text x="415" y="210.2" font-size="16.7" fill="#000" text-anchor="start" >simulations</text>
<text x="415" y="229.2" font-size="16.7" fill="#000" text-anchor="start" >theory (truncated FT)</text>
<text x="415" y="248.2" font-size="16.7" fill="#aaa" text-anchor="start" >theory (complete FT)</text>
<g stroke="#000" stroke-width="1.1" fill="none">
<path d="M419.22 585.8 v-6 M419.22 334.8 v6 M465.84 585.8 v-6 M465.84 334.8 v6 M512.46 585.8 v-6 M512.46 334.8 v6 M559.08 585.8 v-6 M559.08 334.8 v6 M605.7 585.8 v-6 M605.7 334.8 v6 M652.32 585.8 v-6 M652.32 334.8 v6 M384.25 585.8 v-3.2 M384.25 334.8 v3.2 M395.91 585.8 v-3.2 M395.91 334.8 v3.2 M407.56 585.8 v-3.2 M407.56 334.8 v3.2 M430.88 585.8 v-3.2 M430.88 334.8 v3.2 M442.53 585.8 v-3.2 M442.53 334.8 v3.2 M454.19 585.8 v-3.2 M454.19 334.8 v3.2 M477.5 585.8 v-3.2 M477.5 334.8 v3.2 M489.15 585.8 v-3.2 M489.15 334.8 v3.2 M500.81 585.8 v-3.2 M500.81 334.8 v3.2 M524.12 585.8 v-3.2 M524.12 334.8 v3.2 M535.77 585.8 v-3.2 M535.77 334.8 v3.2 M547.42 585.8 v-3.2 M547.42 334.8 v3.2 M570.74 585.8 v-3.2 M570.74 334.8 v3.2 M582.39 585.8 v-3.2 M582.39 334.8 v3.2 M594.05 585.8 v-3.2 M594.05 334.8 v3.2 M617.36 585.8 v-3.2 M617.36 334.8 v3.2 M629.01 585.8 v-3.2 M629.01 334.8 v3.2 M640.66 585.8 v-3.2 M640.66 334.8 v3.2 M663.98 585.8 v-3.2 M663.98 334.8 v3.2 M675.63 585.8 v-3.2 M675.63 334.8 v3.2 M372.6 585.8 h6 M675.6 585.8 h-6 M372.6 549.94 h6 M675.6 549.94 h-6 M372.6 514.09 h6 M675.6 514.09 h-6 M372.6 478.23 h6 M675.6 478.23 h-6 M372.6 442.37 h6 M675.6 442.37 h-6 M372.6 406.51 h6 M675.6 406.51 h-6 M372.6 370.66 h6 M675.6 370.66 h-6 M372.6 334.8 h6 M675.6 334.8 h-6 M372.6 578.63 h3.2 M675.6 578.63 h-3.2 M372.6 571.46 h3.2 M675.6 571.46 h-3.2 M372.6 564.29 h3.2 M675.6 564.29 h-3.2 M372.6 557.11 h3.2 M675.6 557.11 h-3.2 M372.6 542.77 h3.2 M675.6 542.77 h-3.2 M372.6 535.6 h3.2 M675.6 535.6 h-3.2 M372.6 528.43 h3.2 M675.6 528.43 h-3.2 M372.6 521.26 h3.2 M675.6 521.26 h-3.2 M372.6 506.91 h3.2 M675.6 506.91 h-3.2 M372.6 499.74 h3.2 M675.6 499.74 h-3.2 M372.6 492.57 h3.2 M675.6 492.57 h-3.2 M372.6 485.4 h3.2 M675.6 485.4 h-3.2 M372.6 471.06 h3.2 M675.6 471.06 h-3.2 M372.6 463.89 h3.2 M675.6 463.89 h-3.2 M372.6 456.71 h3.2 M675.6 456.71 h-3.2 M372.6 449.54 h3.2 M675.6 449.54 h-3.2 M372.6 435.2 h3.2 M675.6 435.2 h-3.2 M372.6 428.03 h3.2 M675.6 428.03 h-3.2 M372.6 420.86 h3.2 M675.6 420.86 h-3.2 M372.6 413.69 h3.2 M675.6 413.69 h-3.2 M372.6 399.34 h3.2 M675.6 399.34 h-3.2 M372.6 392.17 h3.2 M675.6 392.17 h-3.2 M372.6 385 h3.2 M675.6 385 h-3.2 M372.6 377.83 h3.2 M675.6 377.83 h-3.2 M372.6 363.49 h3.2 M675.6 363.49 h-3.2 M372.6 356.31 h3.2 M675.6 356.31 h-3.2 M372.6 349.14 h3.2 M675.6 349.14 h-3.2 M372.6 341.97 h3.2 M675.6 341.97 h-3.2"/>
</g>
<rect x="372.6" y="334.8" width="303" height="251" fill="none" stroke="#000" stroke-width="1.6"/>
<text x="419.22" y="605.4" font-size="16" fill="#000" text-anchor="middle" >820</text>
<text x="512.46" y="605.4" font-size="16" fill="#000" text-anchor="middle" >860</text>
<text x="605.7" y="605.4" font-size="16" fill="#000" text-anchor="middle" >900</text>
<text x="365.8" y="591.1" font-size="16" fill="#000" text-anchor="end" >1</text>
<text x="365.8" y="555.24" font-size="16" fill="#000" text-anchor="end" >2</text>
<text x="365.8" y="519.39" font-size="16" fill="#000" text-anchor="end" >3</text>
<text x="365.8" y="483.53" font-size="16" fill="#000" text-anchor="end" >4</text>
<text x="365.8" y="447.67" font-size="16" fill="#000" text-anchor="end" >5</text>
<text x="365.8" y="411.81" font-size="16" fill="#000" text-anchor="end" >6</text>
<text x="365.8" y="375.96" font-size="16" fill="#000" text-anchor="end" >7</text>
<text x="365.8" y="340.1" font-size="16" fill="#000" text-anchor="end" >8</text>
<text x="659.5" y="360.2" font-size="22" fill="#000" text-anchor="middle" >D</text>
<text transform="translate(348.2 463.4) rotate(-90)" font-size="18" letter-spacing="0.7" text-anchor="middle"><tspan font-style="italic">&#966;</tspan> (rad)</text>
<text x="487.4" y="627" font-size="19"><tspan font-style="italic">&#955;</tspan><tspan font-style="italic" font-size="11" dy="3.6">0</tspan><tspan dy="-3.6"> (nm)</tspan></text>
<path d="M378.66 570.95 L450.69 517.21" fill="none" stroke="#aaa" stroke-width="1.3" stroke-dasharray="9 5.4"/>
<path d="M589.38 413.74 L656.05 364" fill="none" stroke="#aaa" stroke-width="1.3" stroke-dasharray="9 5.4" stroke-dashoffset="3"/>
<path d="M378.89 554.28 L379.48 554.18 L380.06 554.09 L380.64 553.99 L381.22 553.89 L381.81 553.79 L382.39 553.69 L382.97 553.59 L383.56 553.49 L384.14 553.4 L384.72 553.3 L385.3 553.2 L385.89 553.1 L386.47 552.97 L387.05 552.73 L387.63 552.49 L388.22 552.24 L388.8 552 L389.38 551.76 L389.97 551.52 L390.55 551.27 L391.13 551.03 L391.71 550.79 L392.3 550.55 L392.88 550.3 L393.46 550.02 L394.05 549.73 L394.63 549.45 L395.21 549.16 L395.79 548.88 L396.38 548.59 L396.96 548.31 L397.54 548.02 L398.12 547.73 L398.71 547.45 L399.29 547.16 L399.87 546.88 L400.46 546.59 L401.04 546.31 L401.62 546.02 L402.2 545.74 L402.79 545.45 L403.37 545.17 L403.95 544.84 L404.53 544.51 L405.12 544.18 L405.7 543.85 L406.28 543.52 L406.87 543.19 L407.45 542.86 L408.03 542.53 L408.61 542.2 L409.2 541.87 L409.78 541.54 L410.36 541.22 L410.94 540.89 L411.53 540.56 L412.11 540.23 L412.69 539.9 L413.28 539.57 L413.86 539.24 L414.44 538.91 L415.02 538.58 L415.61 538.25 L416.19 537.92 L416.77 537.59 L417.36 537.26 L417.94 536.93 L418.52 536.6 L419.1 536.28 L419.69 535.93 L420.27 535.59 L420.85 535.24 L421.43 534.9 L422.02 534.55 L422.6 534.21 L423.18 533.86 L423.77 533.52 L424.35 533.17 L424.93 532.83 L425.51 532.48 L426.1 532.14 L426.68 531.79 L427.26 531.45 L427.84 531.1 L428.43 530.76 L429.01 530.41 L429.59 530.07 L430.18 529.72 L430.76 529.38 L431.34 529.03 L431.92 528.69 L432.51 528.34 L433.09 528 L433.67 527.65 L434.25 527.31 L434.84 526.96 L435.42 526.62 L436 526.27 L436.59 525.92 L437.17 525.58 L437.75 525.23 L438.33 524.86 L438.92 524.47 L439.5 524.09 L440.08 523.71 L440.67 523.32 L441.25 522.94 L441.83 522.55 L442.41 522.17 L443 521.78 L443.58 521.4 L444.16 521.01 L444.74 520.63 L445.33 520.25 L445.91 519.86 L446.49 519.48 L447.08 519.09 L447.66 518.71 L448.24 518.32 L448.82 517.94 L449.41 517.56 L449.99 517.17 L450.57 516.79 L451.15 516.4 L451.74 516.02 L452.32 515.63 L452.9 515.25 L453.49 514.87 L454.07 514.48 L454.65 514.1 L455.23 513.71 L455.82 513.33 L456.4 512.94 L456.98 512.52 L457.56 512.08 L458.15 511.65 L458.73 511.21 L459.31 510.78 L459.9 510.34 L460.48 509.91 L461.06 509.48 L461.64 509.04 L462.23 508.61 L462.81 508.17 L463.39 507.74 L463.98 507.3 L464.56 506.87 L465.14 506.43 L465.72 506 L466.31 505.56 L466.89 505.13 L467.47 504.69 L468.05 504.26 L468.64 503.82 L469.22 503.39 L469.8 502.95 L470.39 502.52 L470.97 502.08 L471.55 501.65 L472.13 501.21 L472.72 500.78 L473.3 500.35 L473.88 499.91 L474.46 499.48 L475.05 499.04 L475.63 498.61 L476.21 498.17 L476.8 497.74 L477.38 497.3 L477.96 496.87 L478.54 496.43 L479.13 496 L479.71 495.56 L480.29 495.13 L480.87 494.69 L481.46 494.26 L482.04 493.82 L482.62 493.39 L483.21 492.95 L483.79 492.52 L484.37 492.08 L484.95 491.65 L485.54 491.22 L486.12 490.78 L486.7 490.35 L487.29 489.91 L487.87 489.48 L488.45 489.04 L489.03 488.61 L489.62 488.17 L490.2 487.74 L490.78 487.3 L491.36 486.87 L491.95 486.43 L492.53 486 L493.11 485.56 L493.7 485.13 L494.28 484.69 L494.86 484.26 L495.44 483.82 L496.03 483.39 L496.61 482.95 L497.19 482.52 L497.77 482.09 L498.36 481.65 L498.94 481.22 L499.52 480.78 L500.11 480.35 L500.69 479.91 L501.27 479.48 L501.85 479.04 L502.44 478.61 L503.02 478.17 L503.6 477.74 L504.18 477.3 L504.77 476.87 L505.35 476.43 L505.93 476 L506.52 475.56 L507.1 475.13 L507.68 474.69 L508.26 474.26 L508.85 473.82 L509.43 473.39 L510.01 472.95 L510.6 472.52 L511.18 472.09 L511.76 471.65 L512.34 471.22 L512.93 470.78 L513.51 470.35 L514.09 469.91 L514.67 469.48 L515.26 469.04 L515.84 468.61 L516.42 468.17 L517.01 467.74 L517.59 467.3 L518.17 466.87 L518.75 466.43 L519.34 466 L519.92 465.56 L520.5 465.13 L521.08 464.69 L521.67 464.26 L522.25 463.82 L522.83 463.39 L523.42 462.96 L524 462.52 L524.58 462.09 L525.16 461.65 L525.75 461.22 L526.33 460.78 L526.91 460.35 L527.49 459.91 L528.08 459.48 L528.66 459.04 L529.24 458.61 L529.83 458.17 L530.41 457.74 L530.99 457.3 L531.57 456.87 L532.16 456.43 L532.74 456 L533.32 455.56 L533.91 455.13 L534.49 454.69 L535.07 454.26 L535.65 453.83 L536.24 453.39 L536.82 452.96 L537.4 452.52 L537.98 452.09 L538.57 451.65 L539.15 451.22 L539.73 450.78 L540.32 450.35 L540.9 449.91 L541.48 449.48 L542.06 449.04 L542.65 448.61 L543.23 448.17 L543.81 447.74 L544.39 447.3 L544.98 446.87 L545.56 446.43 L546.14 446 L546.73 445.56 L547.31 445.13 L547.89 444.69 L548.47 444.26 L549.06 443.83 L549.64 443.39 L550.22 442.96 L550.8 442.52 L551.39 442.09 L551.97 441.65 L552.55 441.22 L553.14 440.78 L553.72 440.35 L554.3 439.91 L554.88 439.48 L555.47 439.04 L556.05 438.61 L556.63 438.17 L557.22 437.74 L557.8 437.3 L558.38 436.87 L558.96 436.43 L559.55 436 L560.13 435.56 L560.71 435.13 L561.29 434.7 L561.88 434.26 L562.46 433.83 L563.04 433.39 L563.63 432.96 L564.21 432.52 L564.79 432.09 L565.37 431.65 L565.96 431.22 L566.54 430.78 L567.12 430.35 L567.7 429.91 L568.29 429.48 L568.87 429.04 L569.45 428.61 L570.04 428.17 L570.62 427.74 L571.2 427.3 L571.78 426.87 L572.37 426.43 L572.95 426 L573.53 425.57 L574.11 425.13 L574.7 424.7 L575.28 424.26 L575.86 423.83 L576.45 423.39 L577.03 422.96 L577.61 422.52 L578.19 422.09 L578.78 421.65 L579.36 421.22 L579.94 420.78 L580.53 420.35 L581.11 419.91 L581.69 419.48 L582.27 419.04 L582.86 418.61 L583.44 418.17 L584.02 417.74 L584.6 417.3 L585.19 416.87 L585.77 416.44 L586.35 416 L586.94 415.57 L587.52 415.13 L588.1 414.7 L588.68 414.26 L589.27 413.83 L589.85 413.39 L590.43 412.96 L591.01 412.52 L591.6 412.09 L592.18 411.71 L592.76 411.35 L593.35 410.99 L593.93 410.63 L594.51 410.27 L595.09 409.91 L595.68 409.55 L596.26 409.19 L596.84 408.83 L597.42 408.47 L598.01 408.11 L598.59 407.75 L599.17 407.39 L599.76 407.03 L600.34 406.67 L600.92 406.31 L601.5 405.95 L602.09 405.59 L602.67 405.23 L603.25 404.87 L603.84 404.51 L604.42 404.15 L605 403.79 L605.58 403.43 L606.17 403.1 L606.75 402.79 L607.33 402.47 L607.91 402.15 L608.5 401.83 L609.08 401.51 L609.66 401.19 L610.25 400.88 L610.83 400.56 L611.41 400.24 L611.99 399.92 L612.58 399.6 L613.16 399.29 L613.74 398.97 L614.32 398.65 L614.91 398.33 L615.49 398.01 L616.07 397.69 L616.66 397.38 L617.24 397.06 L617.82 396.77 L618.4 396.49 L618.99 396.2 L619.57 395.92 L620.15 395.64 L620.73 395.36 L621.32 395.07 L621.9 394.79 L622.48 394.51 L623.07 394.23 L623.65 393.94 L624.23 393.66 L624.81 393.38 L625.4 393.1 L625.98 392.82 L626.56 392.53 L627.15 392.25 L627.73 391.97 L628.31 391.69 L628.89 391.4 L629.48 391.1 L630.06 390.79 L630.64 390.48 L631.22 390.18 L631.81 389.87 L632.39 389.56 L632.97 389.25 L633.56 388.95 L634.14 388.64 L634.72 388.33 L635.3 388.02 L635.89 387.71 L636.47 387.41 L637.05 387.1 L637.63 386.79 L638.22 386.48 L638.8 386.18 L639.38 385.87 L639.97 385.56 L640.55 385.25 L641.13 384.95 L641.71 384.64 L642.3 384.33 L642.88 384.02 L643.46 383.74 L644.04 383.47 L644.63 383.2 L645.21 382.93 L645.79 382.66 L646.38 382.38 L646.96 382.11 L647.54 381.84 L648.12 381.57 L648.71 381.3 L649.29 381.02 L649.87 380.75 L650.46 380.48 L651.04 380.21 L651.62 379.94 L652.2 379.67 L652.79 379.39 L653.37 379.14 L653.95 378.95 L654.53 378.76 L655.12 378.57 L655.7 378.37 L656.28 378.18 L656.87 377.99 L657.45 377.8 L658.03 377.61 L658.61 377.42 L659.2 377.23 L659.78 377.04 L660.36 376.84 L660.94 376.65 L661.53 376.46 L662.11 376.27 L662.69 376.08 L663.28 375.89" fill="none" stroke="#111" stroke-width="1.35" stroke-dasharray="9 5.4"/>
<circle cx="419.22" cy="539.01" r="4.2" fill="#c818c8"/>
<circle cx="489.15" cy="491.14" r="4.2" fill="#0000ff"/>
<circle cx="559.08" cy="438.79" r="4.2" fill="#0a7a0a"/>
<circle cx="629.01" cy="392.17" r="4.2" fill="#ff0000"/>
<circle cx="394.4" cy="354.6" r="4.1" fill="#000"/>
<path d="M386.2 373 h8.4 M399.4 373 h8.6" stroke="#111" stroke-width="1.25"/>
<path d="M386.2 391.5 h8.4 M399.4 391.5 h8.6" stroke="#aaa" stroke-width="1.25"/>
<text x="415" y="357.8" font-size="16.7" fill="#000" text-anchor="start" >simulations</text>
<text x="415" y="376.7" font-size="16.7" fill="#000" text-anchor="start" >theory (truncated FT)</text>
<text x="415" y="395.4" font-size="16.7" fill="#aaa" text-anchor="start" >theory (complete FT)</text>
</svg>
</body></html>
